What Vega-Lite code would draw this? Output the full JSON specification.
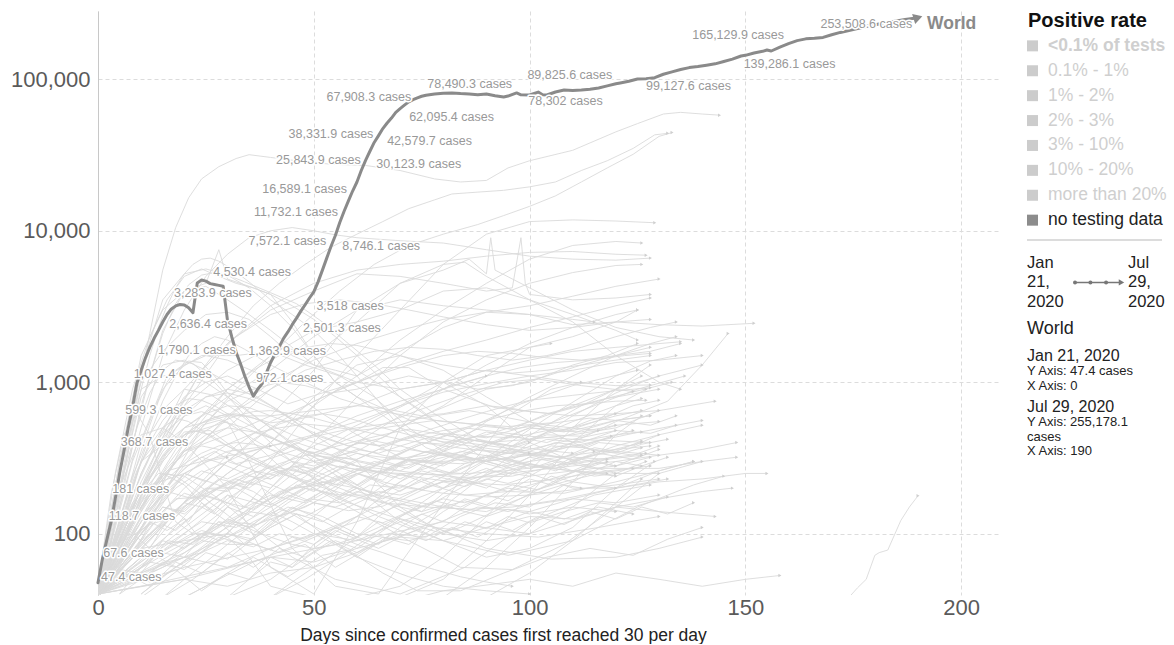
{
"$schema": "https://vega.github.io/schema/vega-lite/v6.json",
"padding": {"left": 10, "top": 10, "right": 0, "bottom": 0},
"bounds": "flush",
"spacing": 27,
"config": {"view": {"stroke": null}, "font": "Liberation Sans"},
"datasets": {
"world": [
{"d":0,"v":47.4},{"d":1,"v":67.6},{"d":2,"v":90},{"d":3,"v":118.7},{"d":4,"v":170},{"d":5,"v":250},{"d":6,"v":350},{"d":7,"v":500},{"d":8,"v":680},{"d":9,"v":980},{"d":10,"v":1200},{"d":11,"v":1450},{"d":12,"v":1700},{"d":13,"v":1950},{"d":14,"v":2200},{"d":15,"v":2500},{"d":16,"v":2800},{"d":17,"v":3050},{"d":18,"v":3190},{"d":19,"v":3260},{"d":20,"v":3240},{"d":21,"v":3100},{"d":22,"v":2880},{"d":23,"v":4530},{"d":24,"v":4730},{"d":25,"v":4650},{"d":26,"v":4480},{"d":27,"v":4420},{"d":28,"v":4360},{"d":29,"v":4300},{"d":30,"v":2560},{"d":31,"v":1990},{"d":32,"v":1580},{"d":33,"v":1330},{"d":34,"v":1100},{"d":35,"v":930},{"d":36,"v":810},{"d":37,"v":900},{"d":38,"v":975},{"d":39,"v":1150},{"d":40,"v":1350},{"d":41,"v":1535},{"d":42,"v":1720},{"d":43,"v":1950},{"d":44,"v":2150},{"d":45,"v":2400},{"d":46,"v":2650},{"d":47,"v":2950},{"d":48,"v":3250},{"d":49,"v":3600},{"d":50,"v":3950},{"d":51,"v":4600},{"d":52,"v":5500},{"d":53,"v":6600},{"d":54,"v":7900},{"d":55,"v":9300},{"d":56,"v":11300},{"d":57,"v":13400},{"d":58,"v":15700},{"d":59,"v":18300},{"d":60,"v":21000},{"d":61,"v":25000},{"d":62,"v":29200},{"d":63,"v":33500},{"d":64,"v":38300},{"d":65,"v":42500},{"d":66,"v":47300},{"d":67,"v":51500},{"d":68,"v":55500},{"d":69,"v":60500},{"d":70,"v":64000},{"d":71,"v":67500},{"d":72,"v":71000},{"d":73,"v":73500},{"d":74,"v":75500},{"d":75,"v":77300},{"d":76,"v":78500},{"d":78,"v":80000},{"d":80,"v":81000},{"d":82,"v":81300},{"d":84,"v":80500},{"d":86,"v":80000},{"d":88,"v":79000},{"d":90,"v":80000},{"d":92,"v":78000},{"d":94,"v":76400},{"d":95,"v":77500},{"d":97,"v":81300},{"d":98,"v":79000},{"d":100,"v":78800},{"d":102,"v":82400},{"d":103,"v":79000},{"d":104,"v":78800},{"d":106,"v":82500},{"d":108,"v":85000},{"d":110,"v":84500},{"d":112,"v":85000},{"d":114,"v":86000},{"d":116,"v":87700},{"d":118,"v":90500},{"d":120,"v":93500},{"d":121,"v":94600},{"d":123,"v":97000},{"d":125,"v":100400},{"d":127,"v":101000},{"d":129,"v":102500},{"d":131,"v":108000},{"d":133,"v":112000},{"d":135,"v":116000},{"d":137,"v":119500},{"d":139,"v":121500},{"d":141,"v":124000},{"d":143,"v":126500},{"d":145,"v":131000},{"d":147,"v":136000},{"d":149,"v":142600},{"d":150,"v":144000},{"d":152,"v":149200},{"d":154,"v":153000},{"d":155,"v":156100},{"d":156,"v":153800},{"d":158,"v":163000},{"d":160,"v":172000},{"d":162,"v":180000},{"d":164,"v":185000},{"d":166,"v":186500},{"d":168,"v":189000},{"d":170,"v":197000},{"d":172,"v":204000},{"d":175,"v":213000},{"d":178,"v":223000},{"d":181,"v":232000},{"d":184,"v":240000},{"d":187,"v":248000},{"d":190,"v":255178.1}
],
"lblA": [
{"d":0.7,"v":47.4,"t":"47.4 cases"},{"d":1.2,"v":67.6,"t":"67.6 cases"},{"d":2.5,"v":118.7,"t":"118.7 cases"},{"d":3.3,"v":181,"t":"181 cases"},{"d":5.3,"v":368.7,"t":"368.7 cases"},{"d":6.3,"v":599.3,"t":"599.3 cases"},{"d":8.3,"v":1027.4,"t":"1,027.4 cases"},{"d":36.6,"v":972.1,"t":"972.1 cases"}
],
"lblH": [
{"d":17.6,"v":3283.9,"t":"3,283.9 cases"},{"d":26.7,"v":4530.4,"t":"4,530.4 cases"},{"d":34.8,"v":1363.9,"t":"1,363.9 cases"},{"d":76.3,"v":78490.3,"t":"78,490.3 cases"},{"d":99.5,"v":89825.6,"t":"89,825.6 cases"},{"d":137.7,"v":165129.9,"t":"165,129.9 cases"}
],
"lblB": [
{"d":13.9,"v":1790.1,"t":"1,790.1 cases"},{"d":16.5,"v":2636.4,"t":"2,636.4 cases"},{"d":47.5,"v":2501.3,"t":"2,501.3 cases"},{"d":50.6,"v":3518,"t":"3,518 cases"},{"d":56.6,"v":8746.1,"t":"8,746.1 cases"},{"d":64.5,"v":30123.9,"t":"30,123.9 cases"},{"d":67.0,"v":42579.7,"t":"42,579.7 cases"},{"d":72.1,"v":62095.4,"t":"62,095.4 cases"},{"d":99.7,"v":78302,"t":"78,302 cases"},{"d":127.0,"v":99127.6,"t":"99,127.6 cases"},{"d":149.6,"v":139286.1,"t":"139,286.1 cases"},{"d":167.4,"v":253508.6,"t":"253,508.6 cases"}
],
"lblE": [
{"d":52.9,"v":7572.1,"t":"7,572.1 cases"},{"d":55.6,"v":11732.1,"t":"11,732.1 cases"},{"d":57.7,"v":16589.1,"t":"16,589.1 cases"},{"d":60.9,"v":25843.9,"t":"25,843.9 cases"},{"d":63.8,"v":38331.9,"t":"38,331.9 cases"},{"d":72.6,"v":67908.3,"t":"67,908.3 cases"}
],
"pr": [
{"t":"<0.1% of tests"},{"t":"0.1% - 1%"},{"t":"1% - 2%"},{"t":"2% - 3%"},{"t":"3% - 10%"},{"t":"10% - 20%"},{"t":"more than 20%"},{"t":"no testing data"}
],
"bg": [
{"c":"US","d":0,"v":40},{"c":"US","d":3,"v":85},{"c":"US","d":6,"v":260},{"c":"US","d":9,"v":750},{"c":"US","d":12,"v":2100},{"c":"US","d":15,"v":5500},{"c":"US","d":18,"v":10500},{"c":"US","d":21,"v":16500},{"c":"US","d":24,"v":22000},{"c":"US","d":28,"v":26500},{"c":"US","d":32,"v":30000},{"c":"US","d":35,"v":31800},{"c":"US","d":40,"v":30500},{"c":"US","d":46,"v":29000},{"c":"US","d":54,"v":27500},{"c":"US","d":62,"v":27000},{"c":"US","d":70,"v":25000},{"c":"US","d":78,"v":22000},{"c":"US","d":84,"v":21000},{"c":"US","d":90,"v":21500},{"c":"US","d":95,"v":26000},{"c":"US","d":100,"v":29000},{"c":"US","d":110,"v":34000},{"c":"US","d":120,"v":45000},{"c":"US","d":125,"v":51000},{"c":"US","d":131,"v":59000},{"c":"US","d":135,"v":60500},{"c":"US","d":140,"v":59000},{"c":"US","d":144,"v":58000},
{"c":"BR","d":0,"v":42},{"c":"BR","d":6,"v":90},{"c":"BR","d":12,"v":250},{"c":"BR","d":18,"v":600},{"c":"BR","d":24,"v":1200},{"c":"BR","d":30,"v":2000},{"c":"BR","d":36,"v":3200},{"c":"BR","d":42,"v":4500},{"c":"BR","d":48,"v":6000},{"c":"BR","d":54,"v":7800},{"c":"BR","d":60,"v":9500},{"c":"BR","d":66,"v":11500},{"c":"BR","d":72,"v":14000},{"c":"BR","d":78,"v":16000},{"c":"BR","d":82,"v":17500},{"c":"BR","d":88,"v":18000},{"c":"BR","d":94,"v":18500},{"c":"BR","d":100,"v":19500},{"c":"BR","d":106,"v":21000},{"c":"BR","d":112,"v":25000},{"c":"BR","d":118,"v":29000},{"c":"BR","d":124,"v":35000},{"c":"BR","d":129,"v":43000},{"c":"BR","d":132,"v":44000},
{"c":"IN","d":0,"v":38},{"c":"IN","d":8,"v":70},{"c":"IN","d":16,"v":200},{"c":"IN","d":24,"v":500},{"c":"IN","d":32,"v":900},{"c":"IN","d":40,"v":1500},{"c":"IN","d":48,"v":2500},{"c":"IN","d":56,"v":4000},{"c":"IN","d":64,"v":6000},{"c":"IN","d":72,"v":8000},{"c":"IN","d":80,"v":9500},{"c":"IN","d":88,"v":11000},{"c":"IN","d":94,"v":12600},{"c":"IN","d":100,"v":14500},{"c":"IN","d":106,"v":17000},{"c":"IN","d":112,"v":21000},{"c":"IN","d":118,"v":26000},{"c":"IN","d":124,"v":32000},{"c":"IN","d":130,"v":42000},{"c":"IN","d":133,"v":44500},
{"c":"RU","d":0,"v":40},{"c":"RU","d":5,"v":150},{"c":"RU","d":10,"v":500},{"c":"RU","d":15,"v":1500},{"c":"RU","d":20,"v":3000},{"c":"RU","d":25,"v":5000},{"c":"RU","d":30,"v":7000},{"c":"RU","d":35,"v":9000},{"c":"RU","d":40,"v":10000},{"c":"RU","d":45,"v":10500},{"c":"RU","d":50,"v":10000},{"c":"RU","d":55,"v":9400},{"c":"RU","d":60,"v":9000},{"c":"RU","d":70,"v":8600},{"c":"RU","d":80,"v":8300},{"c":"RU","d":90,"v":7500},{"c":"RU","d":100,"v":6800},{"c":"RU","d":110,"v":6500},{"c":"RU","d":120,"v":6400},{"c":"RU","d":128,"v":6600},
{"c":"ZA","d":0,"v":40},{"c":"ZA","d":10,"v":80},{"c":"ZA","d":20,"v":70},{"c":"ZA","d":30,"v":150},{"c":"ZA","d":40,"v":300},{"c":"ZA","d":50,"v":700},{"c":"ZA","d":60,"v":1500},{"c":"ZA","d":70,"v":3000},{"c":"ZA","d":80,"v":6000},{"c":"ZA","d":90,"v":9500},{"c":"ZA","d":100,"v":11500},{"c":"ZA","d":110,"v":11800},{"c":"ZA","d":120,"v":11600},{"c":"ZA","d":129,"v":11300},
{"c":"MX","d":0,"v":40},{"c":"MX","d":10,"v":200},{"c":"MX","d":20,"v":700},{"c":"MX","d":30,"v":1800},{"c":"MX","d":40,"v":3200},{"c":"MX","d":50,"v":4500},{"c":"MX","d":60,"v":5500},{"c":"MX","d":70,"v":6000},{"c":"MX","d":80,"v":6300},{"c":"MX","d":90,"v":6800},{"c":"MX","d":100,"v":7200},{"c":"MX","d":110,"v":7300},{"c":"MX","d":120,"v":7000},{"c":"MX","d":127,"v":6900},
{"c":"PE","d":0,"v":42},{"c":"PE","d":10,"v":250},{"c":"PE","d":20,"v":900},{"c":"PE","d":30,"v":1800},{"c":"PE","d":40,"v":3000},{"c":"PE","d":50,"v":4000},{"c":"PE","d":60,"v":5200},{"c":"PE","d":70,"v":5000},{"c":"PE","d":80,"v":4500},{"c":"PE","d":90,"v":4000},{"c":"PE","d":96,"v":4200},{"c":"PE","d":98,"v":9000},{"c":"PE","d":99,"v":4500},{"c":"PE","d":100,"v":3800},{"c":"PE","d":110,"v":3500},{"c":"PE","d":120,"v":3600},{"c":"PE","d":128,"v":3800},
{"c":"CL","d":0,"v":40},{"c":"CL","d":10,"v":150},{"c":"CL","d":20,"v":350},{"c":"CL","d":30,"v":450},{"c":"CL","d":40,"v":600},{"c":"CL","d":50,"v":1200},{"c":"CL","d":60,"v":3000},{"c":"CL","d":70,"v":4500},{"c":"CL","d":80,"v":5500},{"c":"CL","d":86,"v":6500},{"c":"CL","d":90,"v":5200},{"c":"CL","d":91,"v":9000},{"c":"CL","d":92,"v":5500},{"c":"CL","d":100,"v":4200},{"c":"CL","d":110,"v":3000},{"c":"CL","d":120,"v":2300},{"c":"CL","d":130,"v":2000},{"c":"CL","d":138,"v":1900},
{"c":"IR","d":0,"v":45},{"c":"IR","d":5,"v":300},{"c":"IR","d":10,"v":1000},{"c":"IR","d":15,"v":1600},{"c":"IR","d":20,"v":2200},{"c":"IR","d":25,"v":2800},{"c":"IR","d":30,"v":2900},{"c":"IR","d":35,"v":2600},{"c":"IR","d":40,"v":2000},{"c":"IR","d":45,"v":1500},{"c":"IR","d":50,"v":1300},{"c":"IR","d":55,"v":1200},{"c":"IR","d":60,"v":1100},{"c":"IR","d":70,"v":1600},{"c":"IR","d":80,"v":2300},{"c":"IR","d":90,"v":2900},{"c":"IR","d":100,"v":2800},{"c":"IR","d":110,"v":2400},{"c":"IR","d":120,"v":2500},{"c":"IR","d":130,"v":2400},{"c":"IR","d":140,"v":2350},{"c":"IR","d":152,"v":2450},
{"c":"DE","d":0,"v":40},{"c":"DE","d":5,"v":200},{"c":"DE","d":10,"v":1200},{"c":"DE","d":15,"v":3500},{"c":"DE","d":20,"v":5200},{"c":"DE","d":25,"v":5600},{"c":"DE","d":30,"v":5100},{"c":"DE","d":35,"v":4200},{"c":"DE","d":40,"v":3200},{"c":"DE","d":45,"v":2300},{"c":"DE","d":50,"v":1500},{"c":"DE","d":55,"v":1000},{"c":"DE","d":60,"v":800},{"c":"DE","d":70,"v":600},{"c":"DE","d":80,"v":450},{"c":"DE","d":90,"v":400},{"c":"DE","d":100,"v":420},{"c":"DE","d":110,"v":450},{"c":"DE","d":120,"v":500},{"c":"DE","d":130,"v":650},{"c":"DE","d":143,"v":750},
{"c":"FR","d":0,"v":42},{"c":"FR","d":5,"v":150},{"c":"FR","d":10,"v":700},{"c":"FR","d":15,"v":2200},{"c":"FR","d":20,"v":4000},{"c":"FR","d":25,"v":4500},{"c":"FR","d":28,"v":7500},{"c":"FR","d":30,"v":4800},{"c":"FR","d":35,"v":4300},{"c":"FR","d":40,"v":3800},{"c":"FR","d":45,"v":2500},{"c":"FR","d":50,"v":1500},{"c":"FR","d":55,"v":1000},{"c":"FR","d":60,"v":800},{"c":"FR","d":70,"v":500},{"c":"FR","d":80,"v":400},{"c":"FR","d":90,"v":450},{"c":"FR","d":100,"v":550},{"c":"FR","d":110,"v":700},{"c":"FR","d":120,"v":900},{"c":"FR","d":130,"v":1100},{"c":"FR","d":140,"v":1300},
{"c":"TR","d":0,"v":45},{"c":"TR","d":5,"v":300},{"c":"TR","d":10,"v":1500},{"c":"TR","d":15,"v":3000},{"c":"TR","d":20,"v":4000},{"c":"TR","d":25,"v":4300},{"c":"TR","d":30,"v":3500},{"c":"TR","d":35,"v":2800},{"c":"TR","d":40,"v":2200},{"c":"TR","d":45,"v":1700},{"c":"TR","d":50,"v":1300},{"c":"TR","d":60,"v":1000},{"c":"TR","d":70,"v":900},{"c":"TR","d":80,"v":1000},{"c":"TR","d":90,"v":1200},{"c":"TR","d":100,"v":1100},{"c":"TR","d":110,"v":1000},{"c":"TR","d":120,"v":950},{"c":"TR","d":128,"v":960},
{"c":"CA","d":0,"v":40},{"c":"CA","d":8,"v":300},{"c":"CA","d":16,"v":1100},{"c":"CA","d":24,"v":1500},{"c":"CA","d":32,"v":1500},{"c":"CA","d":40,"v":1600},{"c":"CA","d":48,"v":1300},{"c":"CA","d":56,"v":1100},{"c":"CA","d":64,"v":800},{"c":"CA","d":72,"v":500},{"c":"CA","d":80,"v":350},{"c":"CA","d":90,"v":300},{"c":"CA","d":100,"v":330},{"c":"CA","d":110,"v":400},{"c":"CA","d":120,"v":450},{"c":"CA","d":126,"v":470},
{"c":"BE","d":0,"v":40},{"c":"BE","d":5,"v":200},{"c":"BE","d":10,"v":800},{"c":"BE","d":15,"v":1300},{"c":"BE","d":20,"v":1400},{"c":"BE","d":25,"v":1200},{"c":"BE","d":30,"v":1000},{"c":"BE","d":40,"v":700},{"c":"BE","d":50,"v":450},{"c":"BE","d":60,"v":300},{"c":"BE","d":70,"v":150},{"c":"BE","d":80,"v":100},{"c":"BE","d":90,"v":90},{"c":"BE","d":100,"v":100},{"c":"BE","d":110,"v":150},{"c":"BE","d":120,"v":250},{"c":"BE","d":127,"v":300},
{"c":"NL","d":0,"v":40},{"c":"NL","d":5,"v":250},{"c":"NL","d":10,"v":900},{"c":"NL","d":15,"v":1100},{"c":"NL","d":20,"v":1150},{"c":"NL","d":25,"v":1000},{"c":"NL","d":30,"v":800},{"c":"NL","d":40,"v":500},{"c":"NL","d":50,"v":300},{"c":"NL","d":60,"v":200},{"c":"NL","d":70,"v":120},{"c":"NL","d":80,"v":90},{"c":"NL","d":90,"v":70},{"c":"NL","d":100,"v":80},{"c":"NL","d":110,"v":110},{"c":"NL","d":120,"v":200},{"c":"NL","d":129,"v":300},
{"c":"SA","d":0,"v":40},{"c":"SA","d":10,"v":120},{"c":"SA","d":20,"v":400},{"c":"SA","d":30,"v":900},{"c":"SA","d":40,"v":1500},{"c":"SA","d":50,"v":2200},{"c":"SA","d":60,"v":2500},{"c":"SA","d":70,"v":3000},{"c":"SA","d":80,"v":4000},{"c":"SA","d":90,"v":4200},{"c":"SA","d":100,"v":3500},{"c":"SA","d":110,"v":2800},{"c":"SA","d":120,"v":2200},{"c":"SA","d":125,"v":1900},
{"c":"PK","d":0,"v":40},{"c":"PK","d":10,"v":150},{"c":"PK","d":20,"v":350},{"c":"PK","d":30,"v":500},{"c":"PK","d":40,"v":900},{"c":"PK","d":50,"v":1500},{"c":"PK","d":60,"v":2500},{"c":"PK","d":70,"v":4500},{"c":"PK","d":80,"v":6000},{"c":"PK","d":85,"v":6200},{"c":"PK","d":90,"v":5000},{"c":"PK","d":100,"v":3500},{"c":"PK","d":110,"v":2500},{"c":"PK","d":120,"v":1500},{"c":"PK","d":130,"v":1000},{"c":"PK","d":135,"v":900},
{"c":"CO","d":0,"v":40},{"c":"CO","d":10,"v":70},{"c":"CO","d":20,"v":150},{"c":"CO","d":30,"v":250},{"c":"CO","d":40,"v":400},{"c":"CO","d":50,"v":700},{"c":"CO","d":60,"v":1100},{"c":"CO","d":70,"v":1900},{"c":"CO","d":80,"v":3000},{"c":"CO","d":90,"v":4500},{"c":"CO","d":100,"v":6500},{"c":"CO","d":110,"v":8000},{"c":"CO","d":120,"v":8500},{"c":"CO","d":126,"v":8300},
{"c":"AR","d":0,"v":40},{"c":"AR","d":10,"v":80},{"c":"AR","d":20,"v":90},{"c":"AR","d":30,"v":100},{"c":"AR","d":40,"v":200},{"c":"AR","d":50,"v":400},{"c":"AR","d":60,"v":800},{"c":"AR","d":70,"v":1500},{"c":"AR","d":80,"v":2500},{"c":"AR","d":90,"v":3500},{"c":"AR","d":100,"v":4500},{"c":"AR","d":110,"v":5300},{"c":"AR","d":120,"v":5900},{"c":"AR","d":126,"v":6000},
{"c":"BD","d":0,"v":40},{"c":"BD","d":10,"v":200},{"c":"BD","d":20,"v":500},{"c":"BD","d":30,"v":800},{"c":"BD","d":40,"v":1200},{"c":"BD","d":50,"v":2000},{"c":"BD","d":60,"v":3000},{"c":"BD","d":70,"v":3500},{"c":"BD","d":80,"v":3200},{"c":"BD","d":90,"v":3000},{"c":"BD","d":100,"v":2800},{"c":"BD","d":110,"v":2600},{"c":"BD","d":115,"v":2500},
{"c":"QA","d":0,"v":40},{"c":"QA","d":10,"v":300},{"c":"QA","d":20,"v":700},{"c":"QA","d":30,"v":1200},{"c":"QA","d":40,"v":1700},{"c":"QA","d":50,"v":1600},{"c":"QA","d":60,"v":1200},{"c":"QA","d":70,"v":800},{"c":"QA","d":80,"v":500},{"c":"QA","d":90,"v":350},{"c":"QA","d":100,"v":280},{"c":"QA","d":110,"v":260},{"c":"QA","d":118,"v":250},
{"c":"SE","d":0,"v":40},{"c":"SE","d":5,"v":100},{"c":"SE","d":10,"v":300},{"c":"SE","d":20,"v":500},{"c":"SE","d":30,"v":600},{"c":"SE","d":40,"v":600},{"c":"SE","d":50,"v":650},{"c":"SE","d":60,"v":700},{"c":"SE","d":70,"v":900},{"c":"SE","d":80,"v":1000},{"c":"SE","d":90,"v":700},{"c":"SE","d":100,"v":400},{"c":"SE","d":110,"v":300},{"c":"SE","d":120,"v":250},{"c":"SE","d":130,"v":250},{"c":"SE","d":140,"v":300},
{"c":"PH","d":0,"v":40},{"c":"PH","d":10,"v":200},{"c":"PH","d":20,"v":250},{"c":"PH","d":30,"v":200},{"c":"PH","d":40,"v":250},{"c":"PH","d":50,"v":300},{"c":"PH","d":60,"v":350},{"c":"PH","d":70,"v":500},{"c":"PH","d":80,"v":700},{"c":"PH","d":90,"v":1100},{"c":"PH","d":100,"v":1700},{"c":"PH","d":110,"v":2000},{"c":"PH","d":120,"v":2500},{"c":"PH","d":125,"v":3000},
{"c":"ID","d":0,"v":40},{"c":"ID","d":10,"v":100},{"c":"ID","d":20,"v":250},{"c":"ID","d":30,"v":350},{"c":"ID","d":40,"v":380},{"c":"ID","d":50,"v":450},{"c":"ID","d":60,"v":550},{"c":"ID","d":70,"v":700},{"c":"ID","d":80,"v":1000},{"c":"ID","d":90,"v":1200},{"c":"ID","d":100,"v":1400},{"c":"ID","d":110,"v":1600},{"c":"ID","d":120,"v":1700},{"c":"ID","d":130,"v":1800},{"c":"ID","d":135,"v":1850},
{"c":"EG","d":0,"v":40},{"c":"EG","d":10,"v":90},{"c":"EG","d":20,"v":150},{"c":"EG","d":30,"v":250},{"c":"EG","d":40,"v":400},{"c":"EG","d":50,"v":800},{"c":"EG","d":60,"v":1300},{"c":"EG","d":70,"v":1500},{"c":"EG","d":80,"v":1200},{"c":"EG","d":90,"v":800},{"c":"EG","d":100,"v":550},{"c":"EG","d":110,"v":400},{"c":"EG","d":115,"v":350},
{"c":"IL","d":0,"v":40},{"c":"IL","d":5,"v":200},{"c":"IL","d":10,"v":450},{"c":"IL","d":15,"v":500},{"c":"IL","d":20,"v":400},{"c":"IL","d":30,"v":200},{"c":"IL","d":40,"v":60},{"c":"IL","d":50,"v":40},{"c":"IL","d":60,"v":120},{"c":"IL","d":70,"v":500},{"c":"IL","d":80,"v":1000},{"c":"IL","d":90,"v":1500},{"c":"IL","d":100,"v":1700},{"c":"IL","d":105,"v":1800},
{"c":"JP","d":0,"v":40},{"c":"JP","d":10,"v":200},{"c":"JP","d":20,"v":450},{"c":"JP","d":30,"v":550},{"c":"JP","d":35,"v":300},{"c":"JP","d":45,"v":80},{"c":"JP","d":55,"v":45},{"c":"JP","d":65,"v":40},{"c":"JP","d":75,"v":100},{"c":"JP","d":85,"v":250},{"c":"JP","d":95,"v":600},{"c":"JP","d":105,"v":900},{"c":"JP","d":112,"v":1000},
{"c":"KR","d":0,"v":45},{"c":"KR","d":3,"v":180},{"c":"KR","d":6,"v":450},{"c":"KR","d":9,"v":620},{"c":"KR","d":12,"v":450},{"c":"KR","d":15,"v":220},{"c":"KR","d":18,"v":120},{"c":"KR","d":22,"v":100},{"c":"KR","d":26,"v":100},{"c":"KR","d":30,"v":95},{"c":"KR","d":35,"v":70},{"c":"KR","d":40,"v":45},{"c":"KR","d":50,"v":38},{"c":"KR","d":60,"v":30},{"c":"KR","d":80,"v":42},{"c":"KR","d":100,"v":50},{"c":"KR","d":110,"v":45},{"c":"KR","d":120,"v":55},{"c":"KR","d":130,"v":50},{"c":"KR","d":140,"v":45},{"c":"KR","d":150,"v":50},{"c":"KR","d":158,"v":53},
{"c":"IT","d":0,"v":45},{"c":"IT","d":4,"v":250},{"c":"IT","d":8,"v":900},{"c":"IT","d":12,"v":2000},{"c":"IT","d":16,"v":3500},{"c":"IT","d":20,"v":5000},{"c":"IT","d":24,"v":5600},{"c":"IT","d":28,"v":5000},{"c":"IT","d":32,"v":4500},{"c":"IT","d":36,"v":4200},{"c":"IT","d":40,"v":3800},{"c":"IT","d":45,"v":3200},{"c":"IT","d":50,"v":2600},{"c":"IT","d":55,"v":2000},{"c":"IT","d":60,"v":1500},{"c":"IT","d":65,"v":1100},{"c":"IT","d":70,"v":800},{"c":"IT","d":75,"v":650},{"c":"IT","d":80,"v":500},{"c":"IT","d":90,"v":300},{"c":"IT","d":100,"v":250},{"c":"IT","d":110,"v":200},{"c":"IT","d":120,"v":200},{"c":"IT","d":130,"v":220},{"c":"IT","d":140,"v":230},{"c":"IT","d":150,"v":250},{"c":"IT","d":155,"v":250},
{"c":"FAR","d":174,"v":38},{"c":"FAR","d":176,"v":44},{"c":"FAR","d":178,"v":50},{"c":"FAR","d":180,"v":72},{"c":"FAR","d":181,"v":75},{"c":"FAR","d":183,"v":78},{"c":"FAR","d":186,"v":122},{"c":"FAR","d":188,"v":150},{"c":"FAR","d":190,"v":178},
{"c":"X1","d":0,"v":40},{"c":"X1","d":20,"v":50},{"c":"X1","d":40,"v":70},{"c":"X1","d":60,"v":90},{"c":"X1","d":80,"v":120},{"c":"X1","d":100,"v":100},{"c":"X1","d":120,"v":150},{"c":"X1","d":130,"v":140},{"c":"X1","d":143,"v":130},
{"c":"X2","d":0,"v":40},{"c":"X2","d":20,"v":60},{"c":"X2","d":40,"v":80},{"c":"X2","d":60,"v":120},{"c":"X2","d":80,"v":200},{"c":"X2","d":100,"v":300},{"c":"X2","d":110,"v":400},{"c":"X2","d":120,"v":550},{"c":"X2","d":132,"v":750},{"c":"X2","d":140,"v":1300},{"c":"X2","d":146,"v":2100},
{"c":"b1","d":0,"v":40},{"c":"b1","d":4,"v":90},{"c":"b1","d":8,"v":160},{"c":"b1","d":14,"v":250},{"c":"b1","d":20,"v":240},{"c":"b1","d":28,"v":170},{"c":"b1","d":36,"v":110},{"c":"b1","d":45,"v":70},{"c":"b1","d":55,"v":50},{"c":"b1","d":70,"v":40},{"c":"b1","d":85,"v":60},{"c":"b1","d":100,"v":120},{"c":"b1","d":115,"v":180},{"c":"b1","d":128,"v":210},
{"c":"b2","d":0,"v":42},{"c":"b2","d":4,"v":80},{"c":"b2","d":8,"v":140},{"c":"b2","d":14,"v":300},{"c":"b2","d":20,"v":470},{"c":"b2","d":26,"v":480},{"c":"b2","d":32,"v":360},{"c":"b2","d":42,"v":250},{"c":"b2","d":52,"v":210},{"c":"b2","d":62,"v":260},{"c":"b2","d":74,"v":380},{"c":"b2","d":86,"v":500},{"c":"b2","d":98,"v":720},{"c":"b2","d":110,"v":950},{"c":"b2","d":125,"v":1200},
{"c":"b3","d":0,"v":38},{"c":"b3","d":6,"v":65},{"c":"b3","d":12,"v":110},{"c":"b3","d":18,"v":170},{"c":"b3","d":24,"v":175},{"c":"b3","d":30,"v":220},{"c":"b3","d":36,"v":260},{"c":"b3","d":42,"v":240},{"c":"b3","d":48,"v":330},{"c":"b3","d":54,"v":320},{"c":"b3","d":60,"v":400},{"c":"b3","d":66,"v":380},{"c":"b3","d":74,"v":450},{"c":"b3","d":85,"v":400},{"c":"b3","d":100,"v":350},{"c":"b3","d":112,"v":300},{"c":"b3","d":127,"v":340},
{"c":"b4","d":0,"v":45},{"c":"b4","d":5,"v":90},{"c":"b4","d":10,"v":200},{"c":"b4","d":15,"v":370},{"c":"b4","d":20,"v":600},{"c":"b4","d":25,"v":700},{"c":"b4","d":30,"v":600},{"c":"b4","d":36,"v":400},{"c":"b4","d":42,"v":280},{"c":"b4","d":50,"v":200},{"c":"b4","d":60,"v":140},{"c":"b4","d":72,"v":90},{"c":"b4","d":84,"v":60},{"c":"b4","d":96,"v":58},{"c":"b4","d":108,"v":85},{"c":"b4","d":120,"v":150},{"c":"b4","d":130,"v":250},
{"c":"b5","d":0,"v":40},{"c":"b5","d":8,"v":55},{"c":"b5","d":16,"v":80},{"c":"b5","d":24,"v":110},{"c":"b5","d":30,"v":150},{"c":"b5","d":36,"v":130},{"c":"b5","d":44,"v":200},{"c":"b5","d":52,"v":210},{"c":"b5","d":60,"v":260},{"c":"b5","d":68,"v":310},{"c":"b5","d":76,"v":330},{"c":"b5","d":84,"v":420},{"c":"b5","d":92,"v":400},{"c":"b5","d":100,"v":500},{"c":"b5","d":108,"v":480},{"c":"b5","d":114,"v":560},{"c":"b5","d":120,"v":620},
{"c":"b6","d":0,"v":40},{"c":"b6","d":4,"v":60},{"c":"b6","d":8,"v":90},{"c":"b6","d":12,"v":120},{"c":"b6","d":16,"v":105},{"c":"b6","d":20,"v":125},{"c":"b6","d":24,"v":90},{"c":"b6","d":30,"v":85},{"c":"b6","d":36,"v":85},{"c":"b6","d":42,"v":75},{"c":"b6","d":48,"v":85},{"c":"b6","d":55,"v":60},{"c":"b6","d":64,"v":85},{"c":"b6","d":76,"v":110},{"c":"b6","d":88,"v":150},{"c":"b6","d":100,"v":140},{"c":"b6","d":110,"v":170},{"c":"b6","d":120,"v":200},
{"c":"b7","d":0,"v":44},{"c":"b7","d":5,"v":100},{"c":"b7","d":10,"v":250},{"c":"b7","d":15,"v":500},{"c":"b7","d":20,"v":800},{"c":"b7","d":25,"v":1000},{"c":"b7","d":30,"v":1100},{"c":"b7","d":37,"v":900},{"c":"b7","d":44,"v":720},{"c":"b7","d":52,"v":850},{"c":"b7","d":60,"v":1000},{"c":"b7","d":66,"v":1250},{"c":"b7","d":72,"v":1250},{"c":"b7","d":80,"v":900},{"c":"b7","d":92,"v":680},{"c":"b7","d":105,"v":620},{"c":"b7","d":118,"v":780},{"c":"b7","d":130,"v":900},
{"c":"b8","d":0,"v":40},{"c":"b8","d":5,"v":58},{"c":"b8","d":10,"v":55},{"c":"b8","d":16,"v":90},{"c":"b8","d":22,"v":85},{"c":"b8","d":28,"v":120},{"c":"b8","d":34,"v":85},{"c":"b8","d":40,"v":110},{"c":"b8","d":46,"v":135},{"c":"b8","d":52,"v":100},{"c":"b8","d":60,"v":70},{"c":"b8","d":68,"v":100},{"c":"b8","d":76,"v":95},{"c":"b8","d":84,"v":130},{"c":"b8","d":92,"v":160},{"c":"b8","d":100,"v":150},{"c":"b8","d":108,"v":210},{"c":"b8","d":112,"v":200},
{"c":"b10","d":0,"v":42},{"c":"b10","d":4,"v":100},{"c":"b10","d":8,"v":240},{"c":"b10","d":12,"v":450},{"c":"b10","d":16,"v":700},{"c":"b10","d":20,"v":900},{"c":"b10","d":26,"v":830},{"c":"b10","d":32,"v":650},{"c":"b10","d":38,"v":460},{"c":"b10","d":44,"v":380},{"c":"b10","d":50,"v":340},{"c":"b10","d":56,"v":400},{"c":"b10","d":64,"v":500},{"c":"b10","d":74,"v":650},{"c":"b10","d":84,"v":820},{"c":"b10","d":94,"v":1000},{"c":"b10","d":102,"v":1050},{"c":"b10","d":112,"v":950},{"c":"b10","d":124,"v":870},
{"c":"b12","d":0,"v":41},{"c":"b12","d":5,"v":70},{"c":"b12","d":10,"v":130},{"c":"b12","d":16,"v":210},{"c":"b12","d":22,"v":300},{"c":"b12","d":27,"v":350},{"c":"b12","d":32,"v":290},{"c":"b12","d":40,"v":330},{"c":"b12","d":46,"v":400},{"c":"b12","d":52,"v":350},{"c":"b12","d":60,"v":280},{"c":"b12","d":68,"v":235},{"c":"b12","d":76,"v":270},{"c":"b12","d":84,"v":350},{"c":"b12","d":92,"v":320},{"c":"b12","d":100,"v":280},{"c":"b12","d":110,"v":260},{"c":"b12","d":120,"v":240},
{"c":"b13","d":0,"v":40},{"c":"b13","d":3,"v":65},{"c":"b13","d":6,"v":100},{"c":"b13","d":10,"v":170},{"c":"b13","d":15,"v":250},{"c":"b13","d":20,"v":210},{"c":"b13","d":25,"v":150},{"c":"b13","d":30,"v":120},{"c":"b13","d":37,"v":115},{"c":"b13","d":44,"v":150},{"c":"b13","d":52,"v":130},{"c":"b13","d":60,"v":100},{"c":"b13","d":72,"v":90},{"c":"b13","d":84,"v":110},{"c":"b13","d":96,"v":160},{"c":"b13","d":108,"v":240},{"c":"b13","d":120,"v":330},{"c":"b13","d":126,"v":370},
{"c":"b14","d":0,"v":40},{"c":"b14","d":8,"v":50},{"c":"b14","d":16,"v":65},{"c":"b14","d":24,"v":75},{"c":"b14","d":30,"v":100},{"c":"b14","d":36,"v":92},{"c":"b14","d":42,"v":130},{"c":"b14","d":48,"v":150},{"c":"b14","d":54,"v":185},{"c":"b14","d":60,"v":250},{"c":"b14","d":66,"v":225},{"c":"b14","d":72,"v":320},{"c":"b14","d":78,"v":360},{"c":"b14","d":84,"v":440},{"c":"b14","d":90,"v":520},{"c":"b14","d":96,"v":490},{"c":"b14","d":104,"v":620},{"c":"b14","d":116,"v":760},{"c":"b14","d":128,"v":920},{"c":"b14","d":133,"v":1000},
{"c":"b16","d":0,"v":40},{"c":"b16","d":5,"v":120},{"c":"b16","d":10,"v":400},{"c":"b16","d":15,"v":900},{"c":"b16","d":20,"v":1300},{"c":"b16","d":25,"v":1500},{"c":"b16","d":30,"v":1400},{"c":"b16","d":37,"v":1150},{"c":"b16","d":45,"v":850},{"c":"b16","d":52,"v":620},{"c":"b16","d":60,"v":450},{"c":"b16","d":70,"v":320},{"c":"b16","d":82,"v":240},{"c":"b16","d":95,"v":190},{"c":"b16","d":108,"v":185},{"c":"b16","d":120,"v":220},{"c":"b16","d":130,"v":260},{"c":"b16","d":138,"v":300},
{"c":"b18","d":0,"v":40},{"c":"b18","d":5,"v":85},{"c":"b18","d":10,"v":160},{"c":"b18","d":16,"v":260},{"c":"b18","d":22,"v":290},{"c":"b18","d":28,"v":320},{"c":"b18","d":34,"v":340},{"c":"b18","d":40,"v":380},{"c":"b18","d":46,"v":410},{"c":"b18","d":52,"v":450},{"c":"b18","d":58,"v":490},{"c":"b18","d":64,"v":520},{"c":"b18","d":70,"v":545},{"c":"b18","d":78,"v":600},{"c":"b18","d":86,"v":650},{"c":"b18","d":94,"v":590},{"c":"b18","d":104,"v":520},{"c":"b18","d":116,"v":480},
{"c":"b19","d":0,"v":40},{"c":"b19","d":6,"v":55},{"c":"b19","d":12,"v":48},{"c":"b19","d":18,"v":58},{"c":"b19","d":24,"v":42},{"c":"b19","d":30,"v":55},{"c":"b19","d":36,"v":70},{"c":"b19","d":44,"v":52},{"c":"b19","d":52,"v":72},{"c":"b19","d":58,"v":78},{"c":"b19","d":66,"v":55},{"c":"b19","d":74,"v":42},{"c":"b19","d":84,"v":42},{"c":"b19","d":94,"v":55},{"c":"b19","d":104,"v":70},{"c":"b19","d":114,"v":80},{"c":"b19","d":124,"v":72},{"c":"b19","d":132,"v":92},{"c":"b19","d":140,"v":110},
{"c":"b20","d":0,"v":40},{"c":"b20","d":5,"v":90},{"c":"b20","d":10,"v":200},{"c":"b20","d":15,"v":380},{"c":"b20","d":20,"v":600},{"c":"b20","d":25,"v":800},{"c":"b20","d":30,"v":900},{"c":"b20","d":36,"v":830},{"c":"b20","d":42,"v":650},{"c":"b20","d":50,"v":450},{"c":"b20","d":58,"v":380},{"c":"b20","d":66,"v":430},{"c":"b20","d":74,"v":580},{"c":"b20","d":82,"v":720},{"c":"b20","d":90,"v":900},{"c":"b20","d":100,"v":1000},{"c":"b20","d":110,"v":1300},{"c":"b20","d":118,"v":1500},{"c":"b20","d":125,"v":1800},
{"c":"b21","d":0,"v":42},{"c":"b21","d":5,"v":62},{"c":"b21","d":10,"v":100},{"c":"b21","d":15,"v":150},{"c":"b21","d":20,"v":140},{"c":"b21","d":26,"v":200},{"c":"b21","d":32,"v":200},{"c":"b21","d":38,"v":160},{"c":"b21","d":44,"v":190},{"c":"b21","d":50,"v":230},{"c":"b21","d":56,"v":180},{"c":"b21","d":63,"v":180},{"c":"b21","d":70,"v":250},{"c":"b21","d":77,"v":210},{"c":"b21","d":85,"v":180},{"c":"b21","d":95,"v":190},{"c":"b21","d":105,"v":230},{"c":"b21","d":118,"v":300},
{"c":"b22","d":0,"v":40},{"c":"b22","d":8,"v":70},{"c":"b22","d":16,"v":120},{"c":"b22","d":24,"v":220},{"c":"b22","d":32,"v":380},{"c":"b22","d":40,"v":550},{"c":"b22","d":48,"v":700},{"c":"b22","d":56,"v":900},{"c":"b22","d":64,"v":1100},{"c":"b22","d":72,"v":1300},{"c":"b22","d":80,"v":1500},{"c":"b22","d":88,"v":1600},{"c":"b22","d":96,"v":1550},{"c":"b22","d":104,"v":1450},{"c":"b22","d":112,"v":1400},{"c":"b22","d":120,"v":1500},{"c":"b22","d":128,"v":1600},{"c":"b22","d":135,"v":1800},
{"c":"b24","d":0,"v":44},{"c":"b24","d":5,"v":85},{"c":"b24","d":10,"v":150},{"c":"b24","d":15,"v":240},{"c":"b24","d":20,"v":350},{"c":"b24","d":25,"v":450},{"c":"b24","d":30,"v":500},{"c":"b24","d":36,"v":470},{"c":"b24","d":44,"v":390},{"c":"b24","d":52,"v":320},{"c":"b24","d":60,"v":280},{"c":"b24","d":72,"v":255},{"c":"b24","d":84,"v":235},{"c":"b24","d":96,"v":240},{"c":"b24","d":108,"v":290},{"c":"b24","d":120,"v":380},{"c":"b24","d":130,"v":450},{"c":"b24","d":140,"v":520},
{"c":"b25","d":0,"v":40},{"c":"b25","d":10,"v":55},{"c":"b25","d":20,"v":75},{"c":"b25","d":30,"v":110},{"c":"b25","d":40,"v":170},{"c":"b25","d":50,"v":260},{"c":"b25","d":60,"v":400},{"c":"b25","d":70,"v":600},{"c":"b25","d":80,"v":900},{"c":"b25","d":90,"v":1300},{"c":"b25","d":100,"v":1800},{"c":"b25","d":110,"v":2300},{"c":"b25","d":120,"v":2800},{"c":"b25","d":125,"v":3000},
{"c":"b27","d":0,"v":42},{"c":"b27","d":6,"v":90},{"c":"b27","d":12,"v":115},{"c":"b27","d":18,"v":130},{"c":"b27","d":24,"v":180},{"c":"b27","d":30,"v":160},{"c":"b27","d":36,"v":145},{"c":"b27","d":42,"v":190},{"c":"b27","d":48,"v":205},{"c":"b27","d":54,"v":225},{"c":"b27","d":60,"v":270},{"c":"b27","d":66,"v":255},{"c":"b27","d":72,"v":305},{"c":"b27","d":78,"v":325},{"c":"b27","d":84,"v":345},{"c":"b27","d":90,"v":400},{"c":"b27","d":96,"v":375},{"c":"b27","d":104,"v":450},{"c":"b27","d":112,"v":440},{"c":"b27","d":120,"v":520},{"c":"b27","d":130,"v":550},
{"c":"b28","d":0,"v":40},{"c":"b28","d":4,"v":55},{"c":"b28","d":8,"v":85},{"c":"b28","d":12,"v":140},{"c":"b28","d":16,"v":205},{"c":"b28","d":20,"v":270},{"c":"b28","d":24,"v":320},{"c":"b28","d":28,"v":295},{"c":"b28","d":34,"v":250},{"c":"b28","d":42,"v":200},{"c":"b28","d":50,"v":160},{"c":"b28","d":58,"v":142},{"c":"b28","d":66,"v":152},{"c":"b28","d":74,"v":195},{"c":"b28","d":82,"v":255},{"c":"b28","d":90,"v":320},{"c":"b28","d":100,"v":400},
{"c":"b29","d":0,"v":40},{"c":"b29","d":6,"v":55},{"c":"b29","d":12,"v":45},{"c":"b29","d":18,"v":65},{"c":"b29","d":24,"v":55},{"c":"b29","d":30,"v":75},{"c":"b29","d":36,"v":60},{"c":"b29","d":42,"v":80},{"c":"b29","d":48,"v":70},{"c":"b29","d":54,"v":90},{"c":"b29","d":60,"v":75},{"c":"b29","d":66,"v":95},{"c":"b29","d":72,"v":85},{"c":"b29","d":78,"v":110},{"c":"b29","d":84,"v":95},{"c":"b29","d":90,"v":120},{"c":"b29","d":96,"v":105},{"c":"b29","d":102,"v":130},{"c":"b29","d":108,"v":115},{"c":"b29","d":114,"v":140},{"c":"b29","d":120,"v":125},{"c":"b29","d":126,"v":150},{"c":"b29","d":132,"v":135},{"c":"b29","d":138,"v":160},
{"c":"b31","d":0,"v":46},{"c":"b31","d":3,"v":110},{"c":"b31","d":6,"v":250},{"c":"b31","d":9,"v":500},{"c":"b31","d":12,"v":850},{"c":"b31","d":15,"v":1200},{"c":"b31","d":18,"v":1400},{"c":"b31","d":22,"v":1330},{"c":"b31","d":27,"v":1000},{"c":"b31","d":32,"v":700},{"c":"b31","d":38,"v":450},{"c":"b31","d":46,"v":280},{"c":"b31","d":55,"v":180},{"c":"b31","d":65,"v":130},{"c":"b31","d":80,"v":90},{"c":"b31","d":95,"v":72},{"c":"b31","d":110,"v":90},{"c":"b31","d":125,"v":150},{"c":"b31","d":138,"v":210},{"c":"b31","d":145,"v":240},
{"c":"b33","d":0,"v":40},{"c":"b33","d":6,"v":60},{"c":"b33","d":12,"v":90},{"c":"b33","d":18,"v":140},{"c":"b33","d":24,"v":210},{"c":"b33","d":30,"v":300},{"c":"b33","d":36,"v":420},{"c":"b33","d":42,"v":530},{"c":"b33","d":48,"v":600},{"c":"b33","d":52,"v":620},{"c":"b33","d":58,"v":580},{"c":"b33","d":66,"v":500},{"c":"b33","d":74,"v":435},{"c":"b33","d":82,"v":395},{"c":"b33","d":92,"v":360},{"c":"b33","d":100,"v":340},
{"c":"b34","d":0,"v":40},{"c":"b34","d":2,"v":60},{"c":"b34","d":4,"v":95},{"c":"b34","d":6,"v":150},{"c":"b34","d":8,"v":230},{"c":"b34","d":10,"v":350},{"c":"b34","d":12,"v":520},{"c":"b34","d":14,"v":750},{"c":"b34","d":16,"v":1000},{"c":"b34","d":18,"v":1200},{"c":"b34","d":21,"v":1380},{"c":"b34","d":24,"v":1350},{"c":"b34","d":27,"v":1100},{"c":"b34","d":30,"v":850},{"c":"b34","d":35,"v":640},{"c":"b34","d":40,"v":500},{"c":"b34","d":48,"v":350},{"c":"b34","d":56,"v":250},{"c":"b34","d":65,"v":170},{"c":"b34","d":75,"v":120},{"c":"b34","d":90,"v":80},{"c":"b34","d":105,"v":68},{"c":"b34","d":120,"v":70},{"c":"b34","d":130,"v":80},{"c":"b34","d":140,"v":95},
{"c":"b35","d":0,"v":40},{"c":"b35","d":3,"v":70},{"c":"b35","d":6,"v":130},{"c":"b35","d":9,"v":250},{"c":"b35","d":12,"v":450},{"c":"b35","d":15,"v":750},{"c":"b35","d":18,"v":1100},{"c":"b35","d":21,"v":1500},{"c":"b35","d":24,"v":1800},{"c":"b35","d":27,"v":2000},{"c":"b35","d":30,"v":1900},{"c":"b35","d":34,"v":1650},{"c":"b35","d":40,"v":1300},{"c":"b35","d":48,"v":1000},{"c":"b35","d":56,"v":780},{"c":"b35","d":66,"v":640},{"c":"b35","d":80,"v":550},{"c":"b35","d":95,"v":510},{"c":"b35","d":105,"v":540},{"c":"b35","d":115,"v":700},{"c":"b35","d":125,"v":900},{"c":"b35","d":136,"v":1100},
{"c":"b36","d":0,"v":40},{"c":"b36","d":2,"v":70},{"c":"b36","d":4,"v":130},{"c":"b36","d":6,"v":250},{"c":"b36","d":8,"v":480},{"c":"b36","d":10,"v":900},{"c":"b36","d":12,"v":1500},{"c":"b36","d":14,"v":2300},{"c":"b36","d":16,"v":3200},{"c":"b36","d":18,"v":4200},{"c":"b36","d":20,"v":5200},{"c":"b36","d":22,"v":6000},{"c":"b36","d":24,"v":6500},{"c":"b36","d":26,"v":6600},{"c":"b36","d":28,"v":6300},{"c":"b36","d":31,"v":5600},{"c":"b36","d":35,"v":4600},{"c":"b36","d":40,"v":3500},{"c":"b36","d":45,"v":2800},{"c":"b36","d":50,"v":2200},{"c":"b36","d":55,"v":1600},{"c":"b36","d":60,"v":1100},{"c":"b36","d":65,"v":750},{"c":"b36","d":70,"v":500},{"c":"b36","d":76,"v":370},{"c":"b36","d":84,"v":305},{"c":"b36","d":90,"v":320},{"c":"b36","d":96,"v":410},{"c":"b36","d":104,"v":580},{"c":"b36","d":112,"v":800},{"c":"b36","d":120,"v":1100},{"c":"b36","d":128,"v":1380},{"c":"b36","d":134,"v":1500},
{"c":"b37","d":0,"v":40},{"c":"b37","d":3,"v":90},{"c":"b37","d":6,"v":220},{"c":"b37","d":9,"v":500},{"c":"b37","d":12,"v":1100},{"c":"b37","d":15,"v":2100},{"c":"b37","d":18,"v":3300},{"c":"b37","d":21,"v":4400},{"c":"b37","d":24,"v":5100},{"c":"b37","d":27,"v":5300},{"c":"b37","d":30,"v":5100},{"c":"b37","d":34,"v":4600},{"c":"b37","d":40,"v":3900},{"c":"b37","d":46,"v":3300},{"c":"b37","d":52,"v":2500},{"c":"b37","d":58,"v":1800},{"c":"b37","d":64,"v":1300},{"c":"b37","d":70,"v":900},{"c":"b37","d":78,"v":620},{"c":"b37","d":88,"v":420},{"c":"b37","d":100,"v":330},{"c":"b37","d":115,"v":270},{"c":"b37","d":130,"v":270},{"c":"b37","d":140,"v":300},{"c":"b37","d":148,"v":320},
{"c":"b38","d":60,"v":38},{"c":"b38","d":70,"v":45},{"c":"b38","d":80,"v":70},{"c":"b38","d":90,"v":130},{"c":"b38","d":100,"v":260},{"c":"b38","d":110,"v":500},{"c":"b38","d":120,"v":900},{"c":"b38","d":128,"v":1300},
{"c":"b39","d":70,"v":38},{"c":"b39","d":80,"v":50},{"c":"b39","d":90,"v":90},{"c":"b39","d":100,"v":180},{"c":"b39","d":110,"v":400},{"c":"b39","d":120,"v":700},{"c":"b39","d":127,"v":900},
{"c":"b40","d":80,"v":38},{"c":"b40","d":90,"v":60},{"c":"b40","d":100,"v":110},{"c":"b40","d":110,"v":220},{"c":"b40","d":120,"v":450},{"c":"b40","d":126,"v":600},
{"c":"b41","d":0,"v":40},{"c":"b41","d":10,"v":45},{"c":"b41","d":20,"v":50},{"c":"b41","d":30,"v":45},{"c":"b41","d":40,"v":55},{"c":"b41","d":50,"v":60},{"c":"b41","d":60,"v":75},{"c":"b41","d":70,"v":100},{"c":"b41","d":80,"v":150},{"c":"b41","d":90,"v":250},{"c":"b41","d":100,"v":400},{"c":"b41","d":110,"v":600},{"c":"b41","d":120,"v":850},{"c":"b41","d":126,"v":1000},{"c":"b41","d":130,"v":1100},
{"c":"b42","d":90,"v":38},{"c":"b42","d":100,"v":55},{"c":"b42","d":110,"v":90},{"c":"b42","d":120,"v":160},{"c":"b42","d":126,"v":230},
{"c":"b43","d":0,"v":40},{"c":"b43","d":5,"v":60},{"c":"b43","d":10,"v":90},{"c":"b43","d":15,"v":140},{"c":"b43","d":20,"v":200},{"c":"b43","d":25,"v":260},{"c":"b43","d":30,"v":300},{"c":"b43","d":35,"v":350},{"c":"b43","d":40,"v":380},
{"c":"b44","d":0,"v":40},{"c":"b44","d":5,"v":75},{"c":"b44","d":10,"v":120},{"c":"b44","d":15,"v":180},{"c":"b44","d":20,"v":250},{"c":"b44","d":25,"v":300},{"c":"b44","d":30,"v":320},
{"c":"b46","d":0,"v":40},{"c":"b46","d":10,"v":70},{"c":"b46","d":20,"v":120},{"c":"b46","d":30,"v":200},{"c":"b46","d":40,"v":320},{"c":"b46","d":50,"v":450},{"c":"b46","d":60,"v":600},{"c":"b46","d":70,"v":750},{"c":"b46","d":80,"v":900},{"c":"b46","d":90,"v":1100},
{"c":"b48","d":0,"v":40},{"c":"b48","d":10,"v":120},{"c":"b48","d":20,"v":300},{"c":"b48","d":30,"v":600},{"c":"b48","d":40,"v":1000},{"c":"b48","d":50,"v":1400},{"c":"b48","d":60,"v":1800},{"c":"b48","d":70,"v":2200},{"c":"b48","d":80,"v":2600},{"c":"b48","d":90,"v":2900},{"c":"b48","d":100,"v":3200},{"c":"b48","d":110,"v":3700},{"c":"b48","d":120,"v":4300},{"c":"b48","d":130,"v":4800},
{"c":"b49","d":0,"v":40},{"c":"b49","d":8,"v":150},{"c":"b49","d":16,"v":500},{"c":"b49","d":24,"v":1200},{"c":"b49","d":32,"v":2000},{"c":"b49","d":40,"v":2800},{"c":"b49","d":48,"v":3300},{"c":"b49","d":56,"v":3500},{"c":"b49","d":64,"v":3300},{"c":"b49","d":72,"v":3000},{"c":"b49","d":80,"v":2700},{"c":"b49","d":90,"v":2400},{"c":"b49","d":100,"v":2200},{"c":"b49","d":110,"v":2300},{"c":"b49","d":120,"v":2500},{"c":"b49","d":128,"v":2600},
{"c":"c1","d":0,"v":40},{"c":"c1","d":6,"v":70},{"c":"c1","d":12,"v":130},{"c":"c1","d":18,"v":200},{"c":"c1","d":24,"v":260},{"c":"c1","d":30,"v":230},{"c":"c1","d":38,"v":300},{"c":"c1","d":46,"v":360},{"c":"c1","d":54,"v":330},{"c":"c1","d":62,"v":420},{"c":"c1","d":70,"v":380},{"c":"c1","d":80,"v":460},{"c":"c1","d":90,"v":430},{"c":"c1","d":100,"v":520},{"c":"c1","d":110,"v":480},{"c":"c1","d":120,"v":560},{"c":"c1","d":128,"v":600},
{"c":"c2","d":0,"v":40},{"c":"c2","d":8,"v":48},{"c":"c2","d":16,"v":62},{"c":"c2","d":24,"v":90},{"c":"c2","d":32,"v":140},{"c":"c2","d":40,"v":180},{"c":"c2","d":48,"v":160},{"c":"c2","d":56,"v":230},{"c":"c2","d":64,"v":300},{"c":"c2","d":72,"v":270},{"c":"c2","d":80,"v":350},{"c":"c2","d":88,"v":420},{"c":"c2","d":96,"v":380},{"c":"c2","d":104,"v":460},{"c":"c2","d":112,"v":520},{"c":"c2","d":120,"v":600},{"c":"c2","d":126,"v":650},
{"c":"c3","d":5,"v":40},{"c":"c3","d":12,"v":55},{"c":"c3","d":20,"v":80},{"c":"c3","d":28,"v":120},{"c":"c3","d":36,"v":110},{"c":"c3","d":44,"v":160},{"c":"c3","d":52,"v":220},{"c":"c3","d":60,"v":200},{"c":"c3","d":68,"v":280},{"c":"c3","d":76,"v":350},{"c":"c3","d":84,"v":330},{"c":"c3","d":92,"v":410},{"c":"c3","d":100,"v":500},{"c":"c3","d":108,"v":470},{"c":"c3","d":116,"v":560},{"c":"c3","d":124,"v":700},{"c":"c3","d":130,"v":760},
{"c":"c4","d":0,"v":42},{"c":"c4","d":5,"v":75},{"c":"c4","d":10,"v":130},{"c":"c4","d":16,"v":190},{"c":"c4","d":22,"v":170},{"c":"c4","d":28,"v":230},{"c":"c4","d":34,"v":210},{"c":"c4","d":40,"v":280},{"c":"c4","d":48,"v":250},{"c":"c4","d":56,"v":320},{"c":"c4","d":64,"v":290},{"c":"c4","d":72,"v":360},{"c":"c4","d":80,"v":330},{"c":"c4","d":90,"v":300},{"c":"c4","d":100,"v":340},{"c":"c4","d":110,"v":310},{"c":"c4","d":120,"v":350},{"c":"c4","d":130,"v":330},
{"c":"c5","d":0,"v":40},{"c":"c5","d":10,"v":60},{"c":"c5","d":20,"v":100},{"c":"c5","d":30,"v":170},{"c":"c5","d":40,"v":260},{"c":"c5","d":50,"v":380},{"c":"c5","d":60,"v":520},{"c":"c5","d":70,"v":700},{"c":"c5","d":80,"v":860},{"c":"c5","d":90,"v":980},{"c":"c5","d":100,"v":1100},{"c":"c5","d":110,"v":1200},{"c":"c5","d":120,"v":1350},{"c":"c5","d":130,"v":1400},{"c":"c5","d":140,"v":1500},
{"c":"c6","d":10,"v":40},{"c":"c6","d":18,"v":60},{"c":"c6","d":26,"v":90},{"c":"c6","d":34,"v":140},{"c":"c6","d":42,"v":210},{"c":"c6","d":50,"v":320},{"c":"c6","d":58,"v":450},{"c":"c6","d":66,"v":600},{"c":"c6","d":74,"v":780},{"c":"c6","d":82,"v":950},{"c":"c6","d":90,"v":1100},{"c":"c6","d":98,"v":1250},{"c":"c6","d":106,"v":1350},{"c":"c6","d":114,"v":1400},{"c":"c6","d":122,"v":1500},{"c":"c6","d":128,"v":1550},
{"c":"c7","d":0,"v":40},{"c":"c7","d":4,"v":65},{"c":"c7","d":8,"v":110},{"c":"c7","d":12,"v":180},{"c":"c7","d":16,"v":280},{"c":"c7","d":20,"v":400},{"c":"c7","d":24,"v":520},{"c":"c7","d":28,"v":560},{"c":"c7","d":34,"v":500},{"c":"c7","d":40,"v":430},{"c":"c7","d":48,"v":350},{"c":"c7","d":56,"v":300},{"c":"c7","d":64,"v":260},{"c":"c7","d":72,"v":240},{"c":"c7","d":82,"v":220},{"c":"c7","d":94,"v":210},{"c":"c7","d":106,"v":230},{"c":"c7","d":118,"v":260},{"c":"c7","d":128,"v":280},
{"c":"c8","d":0,"v":40},{"c":"c8","d":3,"v":60},{"c":"c8","d":6,"v":95},{"c":"c8","d":9,"v":150},{"c":"c8","d":12,"v":230},{"c":"c8","d":15,"v":330},{"c":"c8","d":18,"v":420},{"c":"c8","d":22,"v":480},{"c":"c8","d":26,"v":450},{"c":"c8","d":30,"v":380},{"c":"c8","d":36,"v":320},{"c":"c8","d":42,"v":260},{"c":"c8","d":50,"v":200},{"c":"c8","d":58,"v":160},{"c":"c8","d":68,"v":130},{"c":"c8","d":78,"v":110},{"c":"c8","d":90,"v":100},{"c":"c8","d":102,"v":95},{"c":"c8","d":116,"v":110},{"c":"c8","d":130,"v":130},
{"c":"c9","d":20,"v":38},{"c":"c9","d":28,"v":50},{"c":"c9","d":36,"v":65},{"c":"c9","d":44,"v":80},{"c":"c9","d":52,"v":100},{"c":"c9","d":60,"v":130},{"c":"c9","d":68,"v":170},{"c":"c9","d":76,"v":150},{"c":"c9","d":84,"v":200},{"c":"c9","d":92,"v":260},{"c":"c9","d":100,"v":240},{"c":"c9","d":108,"v":320},{"c":"c9","d":116,"v":400},{"c":"c9","d":124,"v":380},{"c":"c9","d":130,"v":450},
{"c":"c10","d":0,"v":40},{"c":"c10","d":10,"v":55},{"c":"c10","d":20,"v":70},{"c":"c10","d":30,"v":60},{"c":"c10","d":40,"v":80},{"c":"c10","d":50,"v":100},{"c":"c10","d":60,"v":90},{"c":"c10","d":70,"v":120},{"c":"c10","d":80,"v":150},{"c":"c10","d":90,"v":140},{"c":"c10","d":100,"v":180},{"c":"c10","d":110,"v":220},{"c":"c10","d":120,"v":200},{"c":"c10","d":130,"v":260},{"c":"c10","d":138,"v":300},
{"c":"c11","d":0,"v":41},{"c":"c11","d":6,"v":80},{"c":"c11","d":12,"v":160},{"c":"c11","d":18,"v":300},{"c":"c11","d":24,"v":500},{"c":"c11","d":30,"v":750},{"c":"c11","d":36,"v":900},{"c":"c11","d":42,"v":1000},{"c":"c11","d":48,"v":950},{"c":"c11","d":54,"v":850},{"c":"c11","d":60,"v":900},{"c":"c11","d":66,"v":1000},{"c":"c11","d":72,"v":1100},{"c":"c11","d":80,"v":1000},{"c":"c11","d":88,"v":900},{"c":"c11","d":96,"v":950},{"c":"c11","d":104,"v":1100},{"c":"c11","d":112,"v":1300},{"c":"c11","d":120,"v":1500},{"c":"c11","d":128,"v":1700},
{"c":"c12","d":0,"v":40},{"c":"c12","d":8,"v":90},{"c":"c12","d":16,"v":200},{"c":"c12","d":24,"v":400},{"c":"c12","d":32,"v":650},{"c":"c12","d":40,"v":900},{"c":"c12","d":48,"v":1200},{"c":"c12","d":56,"v":1400},{"c":"c12","d":64,"v":1600},{"c":"c12","d":72,"v":1700},{"c":"c12","d":80,"v":1650},{"c":"c12","d":88,"v":1500},{"c":"c12","d":96,"v":1400},{"c":"c12","d":104,"v":1500},{"c":"c12","d":112,"v":1700},{"c":"c12","d":120,"v":2000},{"c":"c12","d":128,"v":2300},{"c":"c12","d":134,"v":2500},
{"c":"c13","d":30,"v":38},{"c":"c13","d":40,"v":50},{"c":"c13","d":50,"v":80},{"c":"c13","d":60,"v":130},{"c":"c13","d":70,"v":220},{"c":"c13","d":80,"v":350},{"c":"c13","d":90,"v":550},{"c":"c13","d":100,"v":800},{"c":"c13","d":110,"v":1100},{"c":"c13","d":120,"v":1500},{"c":"c13","d":128,"v":1800},{"c":"c13","d":134,"v":2000},
{"c":"c14","d":0,"v":40},{"c":"c14","d":5,"v":52},{"c":"c14","d":10,"v":70},{"c":"c14","d":15,"v":90},{"c":"c14","d":20,"v":80},{"c":"c14","d":25,"v":100},{"c":"c14","d":30,"v":125},{"c":"c14","d":35,"v":110},{"c":"c14","d":40,"v":140},{"c":"c14","d":45,"v":120},{"c":"c14","d":50,"v":100},{"c":"c14","d":55,"v":85},{"c":"c14","d":60,"v":70},{"c":"c14","d":66,"v":60},{"c":"c14","d":72,"v":52},{"c":"c14","d":80,"v":45},{"c":"c14","d":90,"v":42},{"c":"c14","d":100,"v":40},
{"c":"c15","d":0,"v":44},{"c":"c15","d":4,"v":80},{"c":"c15","d":8,"v":140},{"c":"c15","d":12,"v":230},{"c":"c15","d":16,"v":340},{"c":"c15","d":20,"v":450},{"c":"c15","d":24,"v":540},{"c":"c15","d":28,"v":600},{"c":"c15","d":32,"v":620},{"c":"c15","d":36,"v":580},{"c":"c15","d":40,"v":520},{"c":"c15","d":45,"v":450},{"c":"c15","d":50,"v":400},{"c":"c15","d":56,"v":360},{"c":"c15","d":62,"v":330},{"c":"c15","d":70,"v":310},{"c":"c15","d":80,"v":300},{"c":"c15","d":90,"v":320},{"c":"c15","d":100,"v":360},{"c":"c15","d":110,"v":420},{"c":"c15","d":120,"v":480},
{"c":"c16","d":0,"v":40},{"c":"c16","d":6,"v":65},{"c":"c16","d":12,"v":100},{"c":"c16","d":18,"v":140},{"c":"c16","d":24,"v":180},{"c":"c16","d":30,"v":210},{"c":"c16","d":36,"v":250},{"c":"c16","d":42,"v":290},{"c":"c16","d":48,"v":330},{"c":"c16","d":54,"v":370},{"c":"c16","d":60,"v":410},{"c":"c16","d":66,"v":450},{"c":"c16","d":72,"v":490},{"c":"c16","d":78,"v":460},{"c":"c16","d":84,"v":430},{"c":"c16","d":90,"v":400},{"c":"c16","d":96,"v":380},{"c":"c16","d":102,"v":360},{"c":"c16","d":110,"v":340},
{"c":"c17","d":0,"v":40},{"c":"c17","d":10,"v":65},{"c":"c17","d":20,"v":110},{"c":"c17","d":30,"v":180},{"c":"c17","d":40,"v":150},{"c":"c17","d":50,"v":220},{"c":"c17","d":60,"v":300},{"c":"c17","d":70,"v":260},{"c":"c17","d":80,"v":360},{"c":"c17","d":90,"v":470},{"c":"c17","d":100,"v":420},{"c":"c17","d":110,"v":550},{"c":"c17","d":120,"v":700},{"c":"c17","d":126,"v":780},
{"c":"c18","d":0,"v":43},{"c":"c18","d":5,"v":100},{"c":"c18","d":10,"v":200},{"c":"c18","d":15,"v":350},{"c":"c18","d":20,"v":500},{"c":"c18","d":25,"v":620},{"c":"c18","d":30,"v":700},{"c":"c18","d":35,"v":680},{"c":"c18","d":40,"v":600},{"c":"c18","d":46,"v":520},{"c":"c18","d":52,"v":440},{"c":"c18","d":58,"v":380},{"c":"c18","d":66,"v":330},{"c":"c18","d":74,"v":300},{"c":"c18","d":84,"v":290},{"c":"c18","d":94,"v":310},{"c":"c18","d":104,"v":350},{"c":"c18","d":114,"v":400},{"c":"c18","d":124,"v":460},{"c":"c18","d":134,"v":520},{"c":"c18","d":140,"v":560},
{"c":"c19","d":0,"v":40},{"c":"c19","d":7,"v":50},{"c":"c19","d":14,"v":65},{"c":"c19","d":21,"v":85},{"c":"c19","d":28,"v":110},{"c":"c19","d":35,"v":140},{"c":"c19","d":42,"v":130},{"c":"c19","d":49,"v":170},{"c":"c19","d":56,"v":160},{"c":"c19","d":63,"v":210},{"c":"c19","d":70,"v":200},{"c":"c19","d":77,"v":260},{"c":"c19","d":84,"v":250},{"c":"c19","d":91,"v":320},{"c":"c19","d":98,"v":300},{"c":"c19","d":105,"v":380},{"c":"c19","d":112,"v":370},{"c":"c19","d":119,"v":440},
{"c":"c20","d":0,"v":40},{"c":"c20","d":4,"v":70},{"c":"c20","d":8,"v":120},{"c":"c20","d":12,"v":190},{"c":"c20","d":16,"v":270},{"c":"c20","d":20,"v":360},{"c":"c20","d":24,"v":460},{"c":"c20","d":28,"v":540},{"c":"c20","d":32,"v":600},{"c":"c20","d":36,"v":640},{"c":"c20","d":40,"v":650},{"c":"c20","d":45,"v":620},{"c":"c20","d":50,"v":580},{"c":"c20","d":56,"v":520},{"c":"c20","d":62,"v":470},{"c":"c20","d":70,"v":420},{"c":"c20","d":80,"v":380},{"c":"c20","d":90,"v":350},{"c":"c20","d":100,"v":330},{"c":"c20","d":110,"v":320},{"c":"c20","d":118,"v":310},
{"c":"c21","d":40,"v":38},{"c":"c21","d":48,"v":50},{"c":"c21","d":56,"v":70},{"c":"c21","d":64,"v":100},{"c":"c21","d":72,"v":140},{"c":"c21","d":80,"v":200},{"c":"c21","d":88,"v":280},{"c":"c21","d":96,"v":380},{"c":"c21","d":104,"v":520},{"c":"c21","d":112,"v":700},{"c":"c21","d":120,"v":900},{"c":"c21","d":126,"v":1100},
{"c":"c22","d":0,"v":40},{"c":"c22","d":5,"v":45},{"c":"c22","d":10,"v":52},{"c":"c22","d":15,"v":60},{"c":"c22","d":20,"v":70},{"c":"c22","d":25,"v":82},{"c":"c22","d":30,"v":95},{"c":"c22","d":35,"v":110},{"c":"c22","d":40,"v":125},{"c":"c22","d":45,"v":140},{"c":"c22","d":50,"v":160},{"c":"c22","d":55,"v":150},{"c":"c22","d":60,"v":170},{"c":"c22","d":65,"v":190},{"c":"c22","d":70,"v":180},{"c":"c22","d":75,"v":200},{"c":"c22","d":80,"v":220},{"c":"c22","d":90,"v":240},{"c":"c22","d":100,"v":260},{"c":"c22","d":110,"v":280},{"c":"c22","d":120,"v":300},{"c":"c22","d":130,"v":330},{"c":"c22","d":140,"v":360},{"c":"c22","d":148,"v":400},
{"c":"c23","d":0,"v":40},{"c":"c23","d":10,"v":80},{"c":"c23","d":20,"v":160},{"c":"c23","d":30,"v":300},{"c":"c23","d":40,"v":500},{"c":"c23","d":50,"v":750},{"c":"c23","d":60,"v":1000},{"c":"c23","d":70,"v":1300},{"c":"c23","d":80,"v":1600},{"c":"c23","d":90,"v":1900},{"c":"c23","d":100,"v":2300},{"c":"c23","d":110,"v":2700},{"c":"c23","d":120,"v":3200},{"c":"c23","d":128,"v":3600},
{"c":"c24","d":0,"v":40},{"c":"c24","d":3,"v":60},{"c":"c24","d":6,"v":90},{"c":"c24","d":9,"v":130},{"c":"c24","d":12,"v":180},{"c":"c24","d":15,"v":240},{"c":"c24","d":18,"v":300},{"c":"c24","d":21,"v":350},{"c":"c24","d":24,"v":380},{"c":"c24","d":28,"v":360},{"c":"c24","d":33,"v":320},{"c":"c24","d":38,"v":280},{"c":"c24","d":44,"v":240},{"c":"c24","d":50,"v":210},{"c":"c24","d":58,"v":180},{"c":"c24","d":66,"v":160},{"c":"c24","d":76,"v":150},{"c":"c24","d":86,"v":145},{"c":"c24","d":96,"v":150},{"c":"c24","d":108,"v":170},{"c":"c24","d":120,"v":200},{"c":"c24","d":132,"v":230},
{"c":"c25","d":0,"v":40},{"c":"c25","d":8,"v":55},{"c":"c25","d":16,"v":75},{"c":"c25","d":24,"v":100},{"c":"c25","d":32,"v":130},{"c":"c25","d":40,"v":170},{"c":"c25","d":48,"v":220},{"c":"c25","d":56,"v":280},{"c":"c25","d":64,"v":250},{"c":"c25","d":72,"v":310},{"c":"c25","d":80,"v":290},{"c":"c25","d":88,"v":360},{"c":"c25","d":96,"v":340},{"c":"c25","d":104,"v":420},{"c":"c25","d":112,"v":400},{"c":"c25","d":120,"v":480},{"c":"c25","d":128,"v":460},{"c":"c25","d":134,"v":520},
{"c":"c26","d":0,"v":40},{"c":"c26","d":4,"v":55},{"c":"c26","d":8,"v":75},{"c":"c26","d":12,"v":100},{"c":"c26","d":16,"v":130},{"c":"c26","d":20,"v":160},{"c":"c26","d":24,"v":150},{"c":"c26","d":28,"v":180},{"c":"c26","d":32,"v":210},{"c":"c26","d":36,"v":190},{"c":"c26","d":40,"v":160},{"c":"c26","d":44,"v":140},{"c":"c26","d":48,"v":120},{"c":"c26","d":52,"v":105},{"c":"c26","d":56,"v":95},{"c":"c26","d":60,"v":85},{"c":"c26","d":66,"v":75},{"c":"c26","d":72,"v":65},{"c":"c26","d":78,"v":58},{"c":"c26","d":84,"v":52},{"c":"c26","d":90,"v":48},{"c":"c26","d":96,"v":45},
{"c":"c27","d":15,"v":38},{"c":"c27","d":22,"v":50},{"c":"c27","d":29,"v":70},{"c":"c27","d":36,"v":95},{"c":"c27","d":43,"v":130},{"c":"c27","d":50,"v":170},{"c":"c27","d":57,"v":220},{"c":"c27","d":64,"v":280},{"c":"c27","d":71,"v":350},{"c":"c27","d":78,"v":420},{"c":"c27","d":85,"v":500},{"c":"c27","d":92,"v":580},{"c":"c27","d":99,"v":650},{"c":"c27","d":106,"v":700},{"c":"c27","d":113,"v":720},{"c":"c27","d":120,"v":750},{"c":"c27","d":127,"v":760},
{"c":"c28","d":0,"v":40},{"c":"c28","d":6,"v":90},{"c":"c28","d":12,"v":190},{"c":"c28","d":18,"v":360},{"c":"c28","d":24,"v":600},{"c":"c28","d":30,"v":900},{"c":"c28","d":36,"v":1200},{"c":"c28","d":42,"v":1500},{"c":"c28","d":48,"v":1700},{"c":"c28","d":54,"v":1800},{"c":"c28","d":60,"v":1750},{"c":"c28","d":66,"v":1600},{"c":"c28","d":72,"v":1450},{"c":"c28","d":80,"v":1300},{"c":"c28","d":88,"v":1200},{"c":"c28","d":96,"v":1150},{"c":"c28","d":104,"v":1200},{"c":"c28","d":112,"v":1300},{"c":"c28","d":120,"v":1400},{"c":"c28","d":128,"v":1500},
{"c":"c29","d":0,"v":40},{"c":"c29","d":10,"v":45},{"c":"c29","d":20,"v":52},{"c":"c29","d":30,"v":60},{"c":"c29","d":40,"v":70},{"c":"c29","d":50,"v":65},{"c":"c29","d":60,"v":80},{"c":"c29","d":70,"v":95},{"c":"c29","d":80,"v":90},{"c":"c29","d":90,"v":110},{"c":"c29","d":100,"v":130},{"c":"c29","d":110,"v":125},{"c":"c29","d":120,"v":150},{"c":"c29","d":130,"v":170},{"c":"c29","d":140,"v":190},{"c":"c29","d":147,"v":200},
{"c":"c30","d":0,"v":40},{"c":"c30","d":5,"v":58},{"c":"c30","d":10,"v":85},{"c":"c30","d":15,"v":120},{"c":"c30","d":20,"v":160},{"c":"c30","d":25,"v":200},{"c":"c30","d":30,"v":190},{"c":"c30","d":35,"v":240},{"c":"c30","d":40,"v":230},{"c":"c30","d":45,"v":280},{"c":"c30","d":50,"v":270},{"c":"c30","d":55,"v":320},{"c":"c30","d":60,"v":310},{"c":"c30","d":65,"v":360},{"c":"c30","d":70,"v":350},{"c":"c30","d":75,"v":400},{"c":"c30","d":80,"v":390},{"c":"c30","d":88,"v":440},{"c":"c30","d":96,"v":430},{"c":"c30","d":104,"v":480},{"c":"c30","d":112,"v":470},{"c":"c30","d":120,"v":520},
{"c":"e1","d":0,"v":40},{"c":"e1","d":3,"v":55},{"c":"e1","d":6,"v":70},{"c":"e1","d":9,"v":95},{"c":"e1","d":12,"v":80},{"c":"e1","d":15,"v":110},{"c":"e1","d":18,"v":140},{"c":"e1","d":21,"v":120},{"c":"e1","d":24,"v":160},{"c":"e1","d":27,"v":140},{"c":"e1","d":30,"v":180},{"c":"e1","d":34,"v":150},{"c":"e1","d":38,"v":200},{"c":"e1","d":42,"v":170},{"c":"e1","d":46,"v":210},{"c":"e1","d":50,"v":190},{"c":"e1","d":55,"v":240},{"c":"e1","d":60,"v":210},{"c":"e1","d":65,"v":260},{"c":"e1","d":70,"v":230},{"c":"e1","d":76,"v":280},{"c":"e1","d":82,"v":250},{"c":"e1","d":88,"v":300},{"c":"e1","d":94,"v":270},{"c":"e1","d":100,"v":320},{"c":"e1","d":108,"v":290},{"c":"e1","d":116,"v":340},{"c":"e1","d":124,"v":310},{"c":"e1","d":130,"v":360},
{"c":"e2","d":0,"v":40},{"c":"e2","d":4,"v":48},{"c":"e2","d":8,"v":60},{"c":"e2","d":12,"v":75},{"c":"e2","d":16,"v":65},{"c":"e2","d":20,"v":85},{"c":"e2","d":24,"v":100},{"c":"e2","d":28,"v":90},{"c":"e2","d":32,"v":115},{"c":"e2","d":36,"v":100},{"c":"e2","d":40,"v":125},{"c":"e2","d":45,"v":105},{"c":"e2","d":50,"v":130},{"c":"e2","d":55,"v":110},{"c":"e2","d":60,"v":95},{"c":"e2","d":65,"v":120},{"c":"e2","d":70,"v":105},{"c":"e2","d":76,"v":90},{"c":"e2","d":82,"v":110},{"c":"e2","d":88,"v":95},{"c":"e2","d":94,"v":120},{"c":"e2","d":100,"v":140},{"c":"e2","d":108,"v":125},{"c":"e2","d":116,"v":150},{"c":"e2","d":124,"v":135},
{"c":"e3","d":5,"v":40},{"c":"e3","d":10,"v":60},{"c":"e3","d":15,"v":90},{"c":"e3","d":20,"v":130},{"c":"e3","d":25,"v":180},{"c":"e3","d":30,"v":160},{"c":"e3","d":35,"v":220},{"c":"e3","d":40,"v":200},{"c":"e3","d":45,"v":270},{"c":"e3","d":50,"v":240},{"c":"e3","d":55,"v":310},{"c":"e3","d":60,"v":280},{"c":"e3","d":66,"v":250},{"c":"e3","d":72,"v":300},{"c":"e3","d":78,"v":270},{"c":"e3","d":84,"v":330},{"c":"e3","d":90,"v":300},{"c":"e3","d":96,"v":360},{"c":"e3","d":102,"v":330},{"c":"e3","d":110,"v":380},{"c":"e3","d":118,"v":350},{"c":"e3","d":126,"v":400},
{"c":"e4","d":0,"v":40},{"c":"e4","d":5,"v":70},{"c":"e4","d":10,"v":110},{"c":"e4","d":15,"v":170},{"c":"e4","d":20,"v":250},{"c":"e4","d":25,"v":220},{"c":"e4","d":30,"v":300},{"c":"e4","d":35,"v":270},{"c":"e4","d":40,"v":230},{"c":"e4","d":45,"v":280},{"c":"e4","d":50,"v":250},{"c":"e4","d":55,"v":210},{"c":"e4","d":60,"v":250},{"c":"e4","d":65,"v":220},{"c":"e4","d":70,"v":190},{"c":"e4","d":75,"v":230},{"c":"e4","d":80,"v":200},{"c":"e4","d":85,"v":240},{"c":"e4","d":90,"v":270},{"c":"e4","d":95,"v":240},{"c":"e4","d":100,"v":290},{"c":"e4","d":106,"v":260},{"c":"e4","d":112,"v":310},{"c":"e4","d":120,"v":280},{"c":"e4","d":128,"v":320},
{"c":"e5","d":10,"v":38},{"c":"e5","d":15,"v":48},{"c":"e5","d":20,"v":62},{"c":"e5","d":25,"v":80},{"c":"e5","d":30,"v":100},{"c":"e5","d":35,"v":90},{"c":"e5","d":40,"v":120},{"c":"e5","d":45,"v":150},{"c":"e5","d":50,"v":130},{"c":"e5","d":55,"v":170},{"c":"e5","d":60,"v":200},{"c":"e5","d":65,"v":180},{"c":"e5","d":70,"v":220},{"c":"e5","d":75,"v":260},{"c":"e5","d":80,"v":240},{"c":"e5","d":85,"v":290},{"c":"e5","d":90,"v":330},{"c":"e5","d":95,"v":300},{"c":"e5","d":100,"v":350},{"c":"e5","d":106,"v":400},{"c":"e5","d":112,"v":380},{"c":"e5","d":118,"v":430},{"c":"e5","d":124,"v":480},
{"c":"e6","d":0,"v":40},{"c":"e6","d":3,"v":80},{"c":"e6","d":6,"v":150},{"c":"e6","d":9,"v":260},{"c":"e6","d":12,"v":380},{"c":"e6","d":15,"v":500},{"c":"e6","d":18,"v":580},{"c":"e6","d":21,"v":550},{"c":"e6","d":24,"v":480},{"c":"e6","d":27,"v":420},{"c":"e6","d":30,"v":380},{"c":"e6","d":34,"v":330},{"c":"e6","d":38,"v":290},{"c":"e6","d":42,"v":260},{"c":"e6","d":46,"v":240},{"c":"e6","d":50,"v":270},{"c":"e6","d":55,"v":300},{"c":"e6","d":60,"v":340},{"c":"e6","d":65,"v":310},{"c":"e6","d":70,"v":280},{"c":"e6","d":76,"v":300},{"c":"e6","d":82,"v":330},{"c":"e6","d":88,"v":310},{"c":"e6","d":94,"v":280},{"c":"e6","d":100,"v":300},{"c":"e6","d":110,"v":330},{"c":"e6","d":120,"v":360},{"c":"e6","d":128,"v":380},
{"c":"e7","d":0,"v":40},{"c":"e7","d":5,"v":55},{"c":"e7","d":10,"v":50},{"c":"e7","d":15,"v":65},{"c":"e7","d":20,"v":58},{"c":"e7","d":25,"v":75},{"c":"e7","d":30,"v":68},{"c":"e7","d":35,"v":88},{"c":"e7","d":40,"v":78},{"c":"e7","d":45,"v":95},{"c":"e7","d":50,"v":85},{"c":"e7","d":55,"v":105},{"c":"e7","d":60,"v":92},{"c":"e7","d":65,"v":80},{"c":"e7","d":70,"v":95},{"c":"e7","d":75,"v":110},{"c":"e7","d":80,"v":100},{"c":"e7","d":85,"v":120},{"c":"e7","d":90,"v":108},{"c":"e7","d":95,"v":130},{"c":"e7","d":100,"v":118},{"c":"e7","d":108,"v":140},{"c":"e7","d":116,"v":160},{"c":"e7","d":124,"v":150},{"c":"e7","d":132,"v":175},
{"c":"e8","d":20,"v":38},{"c":"e8","d":25,"v":45},{"c":"e8","d":30,"v":55},{"c":"e8","d":35,"v":50},{"c":"e8","d":40,"v":65},{"c":"e8","d":45,"v":60},{"c":"e8","d":50,"v":75},{"c":"e8","d":55,"v":90},{"c":"e8","d":60,"v":80},{"c":"e8","d":65,"v":100},{"c":"e8","d":70,"v":125},{"c":"e8","d":75,"v":110},{"c":"e8","d":80,"v":140},{"c":"e8","d":85,"v":170},{"c":"e8","d":90,"v":155},{"c":"e8","d":95,"v":190},{"c":"e8","d":100,"v":230},{"c":"e8","d":105,"v":210},{"c":"e8","d":110,"v":260},{"c":"e8","d":115,"v":300},{"c":"e8","d":120,"v":280},{"c":"e8","d":126,"v":330},
{"c":"e9","d":0,"v":40},{"c":"e9","d":4,"v":90},{"c":"e9","d":8,"v":180},{"c":"e9","d":12,"v":320},{"c":"e9","d":16,"v":480},{"c":"e9","d":20,"v":600},{"c":"e9","d":24,"v":640},{"c":"e9","d":28,"v":580},{"c":"e9","d":32,"v":500},{"c":"e9","d":36,"v":420},{"c":"e9","d":40,"v":360},{"c":"e9","d":45,"v":300},{"c":"e9","d":50,"v":260},{"c":"e9","d":55,"v":230},{"c":"e9","d":60,"v":200},{"c":"e9","d":65,"v":180},{"c":"e9","d":70,"v":170},{"c":"e9","d":75,"v":160},{"c":"e9","d":80,"v":150},{"c":"e9","d":85,"v":165},{"c":"e9","d":90,"v":150},{"c":"e9","d":95,"v":140},{"c":"e9","d":100,"v":155},{"c":"e9","d":110,"v":170},{"c":"e9","d":120,"v":160},{"c":"e9","d":130,"v":180},
{"c":"e10","d":0,"v":40},{"c":"e10","d":5,"v":65},{"c":"e10","d":10,"v":100},{"c":"e10","d":15,"v":150},{"c":"e10","d":20,"v":135},{"c":"e10","d":25,"v":175},{"c":"e10","d":30,"v":220},{"c":"e10","d":35,"v":200},{"c":"e10","d":40,"v":260},{"c":"e10","d":45,"v":300},{"c":"e10","d":50,"v":280},{"c":"e10","d":55,"v":320},{"c":"e10","d":60,"v":360},{"c":"e10","d":65,"v":340},{"c":"e10","d":70,"v":380},{"c":"e10","d":75,"v":350},{"c":"e10","d":80,"v":330},{"c":"e10","d":85,"v":300},{"c":"e10","d":90,"v":320},{"c":"e10","d":95,"v":290},{"c":"e10","d":100,"v":270},{"c":"e10","d":105,"v":290},{"c":"e10","d":110,"v":260},{"c":"e10","d":115,"v":240},{"c":"e10","d":120,"v":250},
{"c":"e11","d":30,"v":38},{"c":"e11","d":35,"v":50},{"c":"e11","d":40,"v":70},{"c":"e11","d":45,"v":60},{"c":"e11","d":50,"v":85},{"c":"e11","d":55,"v":110},{"c":"e11","d":60,"v":95},{"c":"e11","d":65,"v":130},{"c":"e11","d":70,"v":160},{"c":"e11","d":75,"v":140},{"c":"e11","d":80,"v":185},{"c":"e11","d":85,"v":220},{"c":"e11","d":90,"v":200},{"c":"e11","d":95,"v":250},{"c":"e11","d":100,"v":290},{"c":"e11","d":105,"v":270},{"c":"e11","d":110,"v":320},{"c":"e11","d":115,"v":370},{"c":"e11","d":120,"v":350},{"c":"e11","d":126,"v":410},
{"c":"e12","d":0,"v":40},{"c":"e12","d":2,"v":55},{"c":"e12","d":4,"v":75},{"c":"e12","d":6,"v":100},{"c":"e12","d":8,"v":130},{"c":"e12","d":10,"v":165},{"c":"e12","d":12,"v":200},{"c":"e12","d":14,"v":230},{"c":"e12","d":16,"v":250},{"c":"e12","d":18,"v":240},{"c":"e12","d":20,"v":220},{"c":"e12","d":23,"v":190},{"c":"e12","d":26,"v":160},{"c":"e12","d":29,"v":140},{"c":"e12","d":32,"v":120},{"c":"e12","d":36,"v":105},{"c":"e12","d":40,"v":95},{"c":"e12","d":45,"v":85},{"c":"e12","d":50,"v":80},{"c":"e12","d":55,"v":85},{"c":"e12","d":60,"v":95},{"c":"e12","d":65,"v":110},{"c":"e12","d":70,"v":130},{"c":"e12","d":75,"v":150},{"c":"e12","d":80,"v":170},{"c":"e12","d":85,"v":160},{"c":"e12","d":90,"v":180},{"c":"e12","d":95,"v":200},{"c":"e12","d":100,"v":190},{"c":"e12","d":108,"v":220},{"c":"e12","d":116,"v":250},{"c":"e12","d":124,"v":270},
{"c":"e13","d":0,"v":40},{"c":"e13","d":6,"v":52},{"c":"e13","d":12,"v":68},{"c":"e13","d":18,"v":85},{"c":"e13","d":24,"v":105},{"c":"e13","d":30,"v":95},{"c":"e13","d":36,"v":120},{"c":"e13","d":42,"v":145},{"c":"e13","d":48,"v":130},{"c":"e13","d":54,"v":160},{"c":"e13","d":60,"v":190},{"c":"e13","d":66,"v":170},{"c":"e13","d":72,"v":205},{"c":"e13","d":78,"v":240},{"c":"e13","d":84,"v":220},{"c":"e13","d":90,"v":260},{"c":"e13","d":96,"v":300},{"c":"e13","d":102,"v":280},{"c":"e13","d":108,"v":320},{"c":"e13","d":114,"v":360},{"c":"e13","d":120,"v":340},{"c":"e13","d":126,"v":390},{"c":"e13","d":132,"v":420},
{"c":"e14","d":0,"v":40},{"c":"e14","d":5,"v":80},{"c":"e14","d":10,"v":160},{"c":"e14","d":15,"v":300},{"c":"e14","d":20,"v":450},{"c":"e14","d":25,"v":560},{"c":"e14","d":30,"v":620},{"c":"e14","d":35,"v":590},{"c":"e14","d":40,"v":540},{"c":"e14","d":45,"v":560},{"c":"e14","d":50,"v":600},{"c":"e14","d":55,"v":650},{"c":"e14","d":60,"v":700},{"c":"e14","d":65,"v":680},{"c":"e14","d":70,"v":640},{"c":"e14","d":75,"v":600},{"c":"e14","d":80,"v":620},{"c":"e14","d":85,"v":660},{"c":"e14","d":90,"v":700},{"c":"e14","d":95,"v":680},{"c":"e14","d":100,"v":640},{"c":"e14","d":110,"v":600},{"c":"e14","d":120,"v":620},{"c":"e14","d":130,"v":650},
{"c":"e15","d":10,"v":40},{"c":"e15","d":16,"v":55},{"c":"e15","d":22,"v":72},{"c":"e15","d":28,"v":95},{"c":"e15","d":34,"v":85},{"c":"e15","d":40,"v":110},{"c":"e15","d":46,"v":135},{"c":"e15","d":52,"v":120},{"c":"e15","d":58,"v":150},{"c":"e15","d":64,"v":180},{"c":"e15","d":70,"v":165},{"c":"e15","d":76,"v":200},{"c":"e15","d":82,"v":235},{"c":"e15","d":88,"v":215},{"c":"e15","d":94,"v":255},{"c":"e15","d":100,"v":290},{"c":"e15","d":106,"v":270},{"c":"e15","d":112,"v":310},{"c":"e15","d":118,"v":350},{"c":"e15","d":124,"v":330},{"c":"e15","d":130,"v":380},
{"c":"e16","d":0,"v":40},{"c":"e16","d":4,"v":60},{"c":"e16","d":8,"v":85},{"c":"e16","d":12,"v":115},{"c":"e16","d":16,"v":150},{"c":"e16","d":20,"v":185},{"c":"e16","d":24,"v":170},{"c":"e16","d":28,"v":200},{"c":"e16","d":32,"v":230},{"c":"e16","d":36,"v":210},{"c":"e16","d":40,"v":240},{"c":"e16","d":44,"v":270},{"c":"e16","d":48,"v":250},{"c":"e16","d":52,"v":220},{"c":"e16","d":56,"v":200},{"c":"e16","d":60,"v":180},{"c":"e16","d":65,"v":165},{"c":"e16","d":70,"v":150},{"c":"e16","d":75,"v":140},{"c":"e16","d":80,"v":155},{"c":"e16","d":85,"v":140},{"c":"e16","d":90,"v":130},{"c":"e16","d":95,"v":145},{"c":"e16","d":100,"v":135},{"c":"e16","d":110,"v":150},{"c":"e16","d":120,"v":140},
{"c":"e17","d":0,"v":40},{"c":"e17","d":6,"v":75},{"c":"e17","d":12,"v":130},{"c":"e17","d":18,"v":210},{"c":"e17","d":24,"v":300},{"c":"e17","d":30,"v":390},{"c":"e17","d":36,"v":460},{"c":"e17","d":42,"v":500},{"c":"e17","d":48,"v":530},{"c":"e17","d":54,"v":510},{"c":"e17","d":60,"v":480},{"c":"e17","d":66,"v":500},{"c":"e17","d":72,"v":530},{"c":"e17","d":78,"v":560},{"c":"e17","d":84,"v":540},{"c":"e17","d":90,"v":510},{"c":"e17","d":96,"v":490},{"c":"e17","d":102,"v":520},{"c":"e17","d":108,"v":550},{"c":"e17","d":114,"v":580},{"c":"e17","d":120,"v":560},{"c":"e17","d":128,"v":600},
{"c":"e18","d":15,"v":38},{"c":"e18","d":20,"v":50},{"c":"e18","d":25,"v":65},{"c":"e18","d":30,"v":85},{"c":"e18","d":35,"v":110},{"c":"e18","d":40,"v":140},{"c":"e18","d":45,"v":175},{"c":"e18","d":50,"v":215},{"c":"e18","d":55,"v":260},{"c":"e18","d":60,"v":310},{"c":"e18","d":65,"v":360},{"c":"e18","d":70,"v":410},{"c":"e18","d":75,"v":450},{"c":"e18","d":80,"v":480},{"c":"e18","d":85,"v":500},{"c":"e18","d":90,"v":480},{"c":"e18","d":95,"v":460},{"c":"e18","d":100,"v":440},{"c":"e18","d":110,"v":420},{"c":"e18","d":120,"v":410},{"c":"e18","d":128,"v":400},
{"c":"e19","d":0,"v":40},{"c":"e19","d":3,"v":50},{"c":"e19","d":6,"v":62},{"c":"e19","d":9,"v":78},{"c":"e19","d":12,"v":95},{"c":"e19","d":15,"v":115},{"c":"e19","d":18,"v":105},{"c":"e19","d":21,"v":125},{"c":"e19","d":24,"v":150},{"c":"e19","d":27,"v":135},{"c":"e19","d":30,"v":160},{"c":"e19","d":33,"v":145},{"c":"e19","d":36,"v":170},{"c":"e19","d":40,"v":155},{"c":"e19","d":44,"v":180},{"c":"e19","d":48,"v":165},{"c":"e19","d":52,"v":190},{"c":"e19","d":56,"v":175},{"c":"e19","d":60,"v":200},{"c":"e19","d":65,"v":185},{"c":"e19","d":70,"v":210},{"c":"e19","d":75,"v":195},{"c":"e19","d":80,"v":220},{"c":"e19","d":85,"v":205},{"c":"e19","d":90,"v":230},{"c":"e19","d":95,"v":215},{"c":"e19","d":100,"v":240},{"c":"e19","d":110,"v":260},{"c":"e19","d":120,"v":280},
{"c":"e20","d":40,"v":38},{"c":"e20","d":45,"v":48},{"c":"e20","d":50,"v":60},{"c":"e20","d":55,"v":75},{"c":"e20","d":60,"v":95},{"c":"e20","d":65,"v":85},{"c":"e20","d":70,"v":110},{"c":"e20","d":75,"v":135},{"c":"e20","d":80,"v":120},{"c":"e20","d":85,"v":150},{"c":"e20","d":90,"v":180},{"c":"e20","d":95,"v":165},{"c":"e20","d":100,"v":200},{"c":"e20","d":105,"v":240},{"c":"e20","d":110,"v":220},{"c":"e20","d":115,"v":260},{"c":"e20","d":120,"v":300},{"c":"e20","d":126,"v":280},{"c":"e20","d":132,"v":320},
{"c":"e21","d":0,"v":40},{"c":"e21","d":5,"v":95},{"c":"e21","d":10,"v":220},{"c":"e21","d":15,"v":420},{"c":"e21","d":20,"v":650},{"c":"e21","d":25,"v":800},{"c":"e21","d":30,"v":850},{"c":"e21","d":35,"v":780},{"c":"e21","d":40,"v":680},{"c":"e21","d":45,"v":580},{"c":"e21","d":50,"v":500},{"c":"e21","d":55,"v":440},{"c":"e21","d":60,"v":400},{"c":"e21","d":65,"v":380},{"c":"e21","d":70,"v":420},{"c":"e21","d":75,"v":470},{"c":"e21","d":80,"v":520},{"c":"e21","d":85,"v":580},{"c":"e21","d":90,"v":640},{"c":"e21","d":95,"v":700},{"c":"e21","d":100,"v":760},{"c":"e21","d":110,"v":820},{"c":"e21","d":120,"v":880},{"c":"e21","d":128,"v":920},
{"c":"e22","d":0,"v":40},{"c":"e22","d":6,"v":50},{"c":"e22","d":12,"v":65},{"c":"e22","d":18,"v":60},{"c":"e22","d":24,"v":75},{"c":"e22","d":30,"v":90},{"c":"e22","d":36,"v":82},{"c":"e22","d":42,"v":100},{"c":"e22","d":48,"v":92},{"c":"e22","d":54,"v":110},{"c":"e22","d":60,"v":130},{"c":"e22","d":66,"v":118},{"c":"e22","d":72,"v":140},{"c":"e22","d":78,"v":165},{"c":"e22","d":84,"v":150},{"c":"e22","d":90,"v":180},{"c":"e22","d":96,"v":210},{"c":"e22","d":102,"v":195},{"c":"e22","d":108,"v":230},{"c":"e22","d":114,"v":260},{"c":"e22","d":120,"v":240},{"c":"e22","d":126,"v":280},
{"c":"e23","d":0,"v":40},{"c":"e23","d":4,"v":70},{"c":"e23","d":8,"v":115},{"c":"e23","d":12,"v":170},{"c":"e23","d":16,"v":230},{"c":"e23","d":20,"v":290},{"c":"e23","d":24,"v":340},{"c":"e23","d":28,"v":380},{"c":"e23","d":32,"v":400},{"c":"e23","d":36,"v":390},{"c":"e23","d":40,"v":360},{"c":"e23","d":45,"v":330},{"c":"e23","d":50,"v":300},{"c":"e23","d":55,"v":280},{"c":"e23","d":60,"v":265},{"c":"e23","d":65,"v":255},{"c":"e23","d":70,"v":250},{"c":"e23","d":78,"v":245},{"c":"e23","d":86,"v":250},{"c":"e23","d":94,"v":260},{"c":"e23","d":102,"v":275},{"c":"e23","d":110,"v":290},{"c":"e23","d":118,"v":310},{"c":"e23","d":126,"v":330},
{"c":"e24","d":0,"v":40},{"c":"e24","d":8,"v":60},{"c":"e24","d":16,"v":85},{"c":"e24","d":24,"v":120},{"c":"e24","d":32,"v":110},{"c":"e24","d":40,"v":150},{"c":"e24","d":48,"v":200},{"c":"e24","d":56,"v":180},{"c":"e24","d":64,"v":240},{"c":"e24","d":72,"v":310},{"c":"e24","d":80,"v":280},{"c":"e24","d":88,"v":360},{"c":"e24","d":96,"v":440},{"c":"e24","d":104,"v":400},{"c":"e24","d":112,"v":480},{"c":"e24","d":120,"v":560},{"c":"e24","d":128,"v":520},{"c":"e24","d":134,"v":600},
{"c":"e25","d":0,"v":40},{"c":"e25","d":3,"v":75},{"c":"e25","d":6,"v":140},{"c":"e25","d":9,"v":250},{"c":"e25","d":12,"v":400},{"c":"e25","d":15,"v":560},{"c":"e25","d":18,"v":700},{"c":"e25","d":21,"v":780},{"c":"e25","d":24,"v":760},{"c":"e25","d":27,"v":700},{"c":"e25","d":30,"v":620},{"c":"e25","d":34,"v":540},{"c":"e25","d":38,"v":470},{"c":"e25","d":42,"v":410},{"c":"e25","d":46,"v":360},{"c":"e25","d":50,"v":320},{"c":"e25","d":55,"v":280},{"c":"e25","d":60,"v":250},{"c":"e25","d":66,"v":220},{"c":"e25","d":72,"v":200},{"c":"e25","d":80,"v":185},{"c":"e25","d":90,"v":175},{"c":"e25","d":100,"v":180},{"c":"e25","d":110,"v":195},{"c":"e25","d":120,"v":210},{"c":"e25","d":130,"v":230}
]
},
"hconcat": [
{
"width": 902,
"height": 584,
"encoding": {
"x": {"field": "d", "type": "quantitative", "scale": {"domain": [0, 209], "nice": false, "zero": false},
"axis": {"values": [0, 50, 100, 150, 200], "title": "Days since confirmed cases first reached 30 per day", "labelFlush": false, "domain": false, "ticks": false, "grid": true, "gridColor": "#dcdcdc", "gridDash": [4, 3], "labelFontSize": 22, "labelColor": "#5a5a5a", "labelPadding": 2, "titleFontSize": 17.5, "titleFontWeight": "normal", "titleColor": "#222", "titlePadding": 8, "titleX": 405}},
"y": {"field": "v", "type": "quantitative", "scale": {"type": "log", "domain": [39.4, 282500], "nice": false},
"axis": {"values": [100, 1000, 10000, 100000], "format": ",", "title": null, "domain": true, "domainColor": "#c8c8c8", "ticks": false, "grid": true, "gridColor": "#dcdcdc", "gridDash": [4, 3], "labelFontSize": 22, "labelColor": "#5a5a5a", "labelPadding": 8}}
},
"layer": [
{"data": {"name": "bg"}, "mark": {"type": "line", "stroke": "#dadada", "strokeWidth": 0.9, "clip": true}, "encoding": {"detail": {"field": "c"}}},
{"data": {"name": "bg"}, "transform": [{"joinaggregate": [{"op": "max", "field": "d", "as": "m"}], "groupby": ["c"]}, {"filter": "datum.d === datum.m"}], "mark": {"type": "point", "shape": "triangle-right", "size": 12, "filled": true, "color": "#cfcfcf", "opacity": 1, "clip": true}},
{"data": {"name": "world"}, "mark": {"type": "line", "stroke": "#8a8a8a", "strokeWidth": 3, "strokeJoin": "round", "strokeCap": "round"}},
{"data": {"name": "world"}, "transform": [{"filter": "datum.d === 190"}], "mark": {"type": "point", "shape": "triangle-right", "size": 110, "filled": true, "color": "#8a8a8a", "opacity": 1, "angle": -17}},
{"data": {"name": "lblA"}, "encoding": {"text": {"field": "t"}}, "layer": [
{"mark": {"type": "text", "align": "left", "baseline": "middle", "dy": -6, "fontSize": 12.5, "fill": "#fff", "stroke": "#fff", "strokeWidth": 3, "strokeJoin": "round"}},
{"mark": {"type": "text", "align": "left", "baseline": "middle", "dy": -6, "fontSize": 12.5, "fill": "#999"}}]},
{"data": {"name": "lblH"}, "encoding": {"text": {"field": "t"}}, "layer": [
{"mark": {"type": "text", "align": "left", "baseline": "middle", "dy": -11, "fontSize": 12.5, "fill": "#fff", "stroke": "#fff", "strokeWidth": 3, "strokeJoin": "round"}},
{"mark": {"type": "text", "align": "left", "baseline": "middle", "dy": -11, "fontSize": 12.5, "fill": "#999"}}]},
{"data": {"name": "lblB"}, "encoding": {"text": {"field": "t"}}, "layer": [
{"mark": {"type": "text", "align": "left", "baseline": "middle", "dy": 6, "fontSize": 12.5, "fill": "#fff", "stroke": "#fff", "strokeWidth": 3, "strokeJoin": "round"}},
{"mark": {"type": "text", "align": "left", "baseline": "middle", "dy": 6, "fontSize": 12.5, "fill": "#999"}}]},
{"data": {"name": "lblE"}, "encoding": {"text": {"field": "t"}}, "layer": [
{"mark": {"type": "text", "align": "right", "baseline": "middle", "dy": -8, "fontSize": 12.5, "fill": "#fff", "stroke": "#fff", "strokeWidth": 3, "strokeJoin": "round"}},
{"mark": {"type": "text", "align": "right", "baseline": "middle", "dy": -8, "fontSize": 12.5, "fill": "#999"}}]},
{"data": {"name": "world"}, "transform": [{"filter": "datum.d === 190"}], "mark": {"type": "text", "text": "World", "align": "left", "baseline": "middle", "dx": 9, "dy": 6, "fontSize": 17.5, "fontWeight": "bold", "fill": "#8a8a8a"}}
]
},
{
"vconcat": [
{
"width": 140, "height": 219.12,
"encoding": {"y": {"field": "t", "type": "nominal", "scale": {"type": "point", "domain": ["Positive rate", "<0.1% of tests", "0.1% - 1%", "1% - 2%", "2% - 3%", "3% - 10%", "10% - 20%", "more than 20%", "no testing data"], "padding": 0.4}, "axis": null}},
"layer": [
{"data": {"values": [{"t": "Positive rate"}]}, "mark": {"type": "text", "align": "left", "baseline": "middle", "fontSize": 20, "fontWeight": "bold", "fill": "#111", "dx": -4.5}, "encoding": {"x": {"datum": "sq", "type": "nominal", "scale": {"type": "point", "domain": ["sq", "lab"], "range": [5.5, 21], "padding": 0}, "axis": null}, "text": {"field": "t"}}},
{"data": {"name": "pr"}, "mark": {"type": "point", "shape": "square", "size": 121, "filled": true, "opacity": 1}, "encoding": {"x": {"datum": "sq", "type": "nominal", "scale": {"type": "point", "domain": ["sq", "lab"], "range": [5.5, 21], "padding": 0}, "axis": null}, "color": {"condition": {"test": "datum.t === 'no testing data'", "value": "#8c8c8c"}, "value": "#cccccc"}}},
{"data": {"name": "pr"}, "transform": [{"filter": "datum.t !== '<0.1% of tests'"}], "mark": {"type": "text", "align": "left", "baseline": "middle", "fontSize": 17.5}, "encoding": {"x": {"datum": "lab", "type": "nominal", "scale": {"type": "point", "domain": ["sq", "lab"], "range": [5.5, 21], "padding": 0}, "axis": null}, "text": {"field": "t"}, "color": {"condition": {"test": "datum.t === 'no testing data'", "value": "#222"}, "value": "#cfcfcf"}}},
{"data": {"name": "pr"}, "transform": [{"filter": "datum.t === '<0.1% of tests'"}], "mark": {"type": "text", "align": "left", "baseline": "middle", "fontSize": 17.5, "fontWeight": "bold", "fill": "#cfcfcf"}, "encoding": {"x": {"datum": "lab", "type": "nominal", "scale": {"type": "point", "domain": ["sq", "lab"], "range": [5.5, 21], "padding": 0}, "axis": null}, "text": {"field": "t"}}}
]
},
{
"width": 135, "height": 17.76,
"data": {"values": [{"s": "sep"}]},
"mark": {"type": "rule", "stroke": "#d0d0d0", "strokeWidth": 1.5},
"encoding": {"y": {"field": "s", "type": "nominal", "scale": {"type": "point", "padding": 0.5}, "axis": null}}
},
{
"width": 135, "height": 66.75,
"encoding": {"y": {"field": "r", "type": "nominal", "scale": {"type": "point", "domain": ["a", "b", "c"], "padding": 0.69}, "axis": null}},
"resolve": {"scale": {"x": "independent"}},
"layer": [
{"data": {"values": [{"r": "a", "t": "Jan"}, {"r": "b", "t": "21,"}, {"r": "c", "t": "2020"}]}, "mark": {"type": "text", "align": "left", "baseline": "middle", "fontSize": 16.5, "fill": "#222"}, "encoding": {"x": {"datum": "L", "type": "nominal", "scale": {"type": "point", "domain": ["L", "R"], "range": [0, 101], "padding": 0}, "axis": null}, "text": {"field": "t"}}},
{"data": {"values": [{"r": "a", "t": "Jul"}, {"r": "b", "t": "29,"}, {"r": "c", "t": "2020"}]}, "mark": {"type": "text", "align": "left", "baseline": "middle", "fontSize": 16.5, "fill": "#222"}, "encoding": {"x": {"datum": "R", "type": "nominal", "scale": {"type": "point", "domain": ["L", "R"], "range": [0, 101], "padding": 0}, "axis": null}, "text": {"field": "t"}}},
{"data": {"values": [{"r": "b", "day": 0}, {"r": "b", "day": 63}, {"r": "b", "day": 127}, {"r": "b", "day": 190}]},
"encoding": {"x": {"field": "day", "type": "quantitative", "scale": {"domain": [0, 190], "range": [48, 94.5]}, "axis": null}},
"layer": [
{"mark": {"type": "line", "stroke": "#777", "strokeWidth": 1.5}},
{"transform": [{"filter": "datum.day < 190"}], "mark": {"type": "point", "shape": "circle", "size": 16, "filled": true, "color": "#777", "opacity": 1}},
{"transform": [{"filter": "datum.day === 190"}], "mark": {"type": "point", "shape": "triangle-right", "size": 40, "filled": true, "color": "#777", "opacity": 1}}
]}
]
},
{
"width": 135, "height": 26.8,
"data": {"values": [{"t": "World"}]},
"mark": {"type": "text", "align": "left", "baseline": "middle", "fontSize": 18, "fill": "#222"},
"encoding": {"x": {"datum": "L", "type": "nominal", "scale": {"type": "point", "domain": ["L", "R"], "range": [0, 101], "padding": 0}, "axis": null}, "y": {"datum": "w", "type": "nominal", "scale": {"type": "point", "padding": 0.5}, "axis": null}, "text": {"field": "t"}}
},
{
"width": 135, "height": 55.2,
"data": {"values": [{"r": "a", "t": "Jan 21, 2020"}, {"r": "b", "t": "Y Axis: 47.4 cases"}, {"r": "c", "t": "X Axis: 0"}]},
"encoding": {"x": {"datum": "L", "type": "nominal", "scale": {"type": "point", "domain": ["L", "R"], "range": [0, 101], "padding": 0}, "axis": null}, "y": {"field": "r", "type": "nominal", "scale": {"type": "point", "domain": ["a", "b", "c"], "padding": 0.84}, "axis": null}, "text": {"field": "t"}},
"layer": [
{"transform": [{"filter": "datum.r === 'a'"}], "mark": {"type": "text", "align": "left", "baseline": "middle", "fontSize": 16, "fill": "#222"}},
{"transform": [{"filter": "datum.r !== 'a'"}], "mark": {"type": "text", "align": "left", "baseline": "middle", "fontSize": 13, "fill": "#222"}}
]
},
{
"width": 135, "height": 60.8,
"data": {"values": [{"r": "a", "t": "Jul 29, 2020"}, {"r": "b", "t": "Y Axis: 255,178.1"}, {"r": "c", "t": "cases"}, {"r": "d", "t": "X Axis: 190"}]},
"encoding": {"x": {"datum": "L", "type": "nominal", "scale": {"type": "point", "domain": ["L", "R"], "range": [0, 101], "padding": 0}, "axis": null}, "y": {"field": "r", "type": "nominal", "scale": {"type": "point", "domain": ["a", "b", "c", "d"], "padding": 0.573}, "axis": null}, "text": {"field": "t"}},
"layer": [
{"transform": [{"filter": "datum.r === 'a'"}], "mark": {"type": "text", "align": "left", "baseline": "middle", "fontSize": 16, "fill": "#222"}},
{"transform": [{"filter": "datum.r !== 'a'"}], "mark": {"type": "text", "align": "left", "baseline": "middle", "fontSize": 13, "fill": "#222"}}
]
}
],
"spacing": 0,
"bounds": "flush"
}
]
}
